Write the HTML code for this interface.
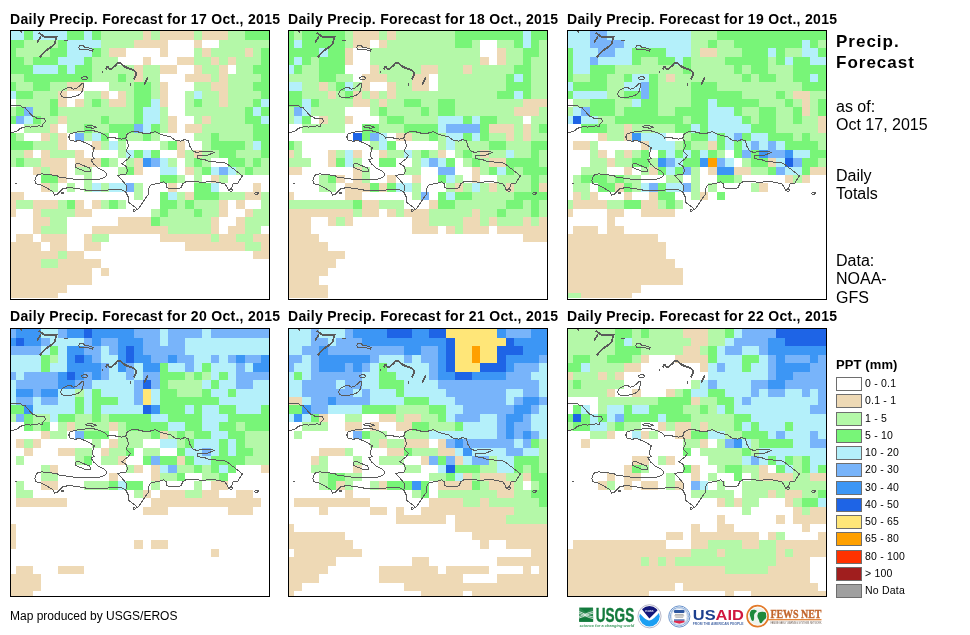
<!DOCTYPE html>
<html><head><meta charset="utf-8">
<title>Daily Precip. Forecast</title>
<style>
html,body{margin:0;padding:0;background:#fff;}
body{width:970px;height:635px;position:relative;overflow:hidden;font-family:"Liberation Sans",Arial,sans-serif;color:#000;}
.ttl{position:absolute;font-weight:bold;font-size:14px;line-height:14px;letter-spacing:0.3px;white-space:nowrap;}
.pn{position:absolute;display:block;}
.rt{position:absolute;left:836px;white-space:nowrap;}
.rb{font-weight:bold;font-size:17px;line-height:17px;letter-spacing:1.0px;}
.rn{font-size:16px;line-height:16px;letter-spacing:0px;}
.lg{position:absolute;left:836px;width:24px;height:12px;border:1px solid #6e6e6e;}
.ll{position:absolute;left:865px;font-size:10.5px;line-height:10.5px;letter-spacing:0.2px;white-space:nowrap;}
.ft{position:absolute;left:10px;top:610px;font-size:12px;line-height:12px;white-space:nowrap;}
</style></head><body>
<div class="ttl" style="left:10px;top:12px">Daily Precip. Forecast for 17 Oct., 2015</div>
<div class="ttl" style="left:288px;top:12px">Daily Precip. Forecast for 18 Oct., 2015</div>
<div class="ttl" style="left:567px;top:12px">Daily Precip. Forecast for 19 Oct., 2015</div>
<div class="ttl" style="left:10px;top:309px">Daily Precip. Forecast for 20 Oct., 2015</div>
<div class="ttl" style="left:288px;top:309px">Daily Precip. Forecast for 21 Oct., 2015</div>
<div class="ttl" style="left:567px;top:309px">Daily Precip. Forecast for 22 Oct., 2015</div>
<svg class="pn" style="left:10px;top:30px" width="260" height="270" viewBox="0 0 260 270">
<g shape-rendering="crispEdges">
<rect x="1" y="1" width="13" height="9" fill="#B4F0FA"/>
<rect x="14" y="1" width="9" height="9" fill="#78F578"/>
<rect x="23" y="1" width="34" height="9" fill="#B4F0FA"/>
<rect x="57" y="1" width="17" height="9" fill="#78F578"/>
<rect x="74" y="1" width="8" height="9" fill="#B4F0FA"/>
<rect x="82" y="1" width="9" height="9" fill="#78F578"/>
<rect x="91" y="1" width="42" height="9" fill="#B4F8A8"/>
<rect x="133" y="1" width="8" height="9" fill="#EED9B5"/>
<rect x="141" y="1" width="9" height="9" fill="#B4F8A8"/>
<rect x="150" y="1" width="34" height="9" fill="#EED9B5"/>
<rect x="184" y="1" width="8" height="9" fill="#B4F8A8"/>
<rect x="192" y="1" width="26" height="9" fill="#EED9B5"/>
<rect x="218" y="1" width="17" height="9" fill="#B4F8A8"/>
<rect x="235" y="1" width="24" height="9" fill="#78F578"/>
<rect x="1" y="10" width="13" height="8" fill="#78F578"/>
<rect x="14" y="10" width="34" height="8" fill="#B4F8A8"/>
<rect x="48" y="10" width="9" height="8" fill="#78F578"/>
<rect x="57" y="10" width="34" height="8" fill="#B4F0FA"/>
<rect x="91" y="10" width="33" height="8" fill="#B4F8A8"/>
<rect x="124" y="10" width="34" height="8" fill="#EED9B5"/>
<rect x="184" y="10" width="8" height="8" fill="#EED9B5"/>
<rect x="209" y="10" width="50" height="8" fill="#B4F8A8"/>
<rect x="1" y="18" width="5" height="9" fill="#78F578"/>
<rect x="6" y="18" width="34" height="9" fill="#B4F8A8"/>
<rect x="40" y="18" width="17" height="9" fill="#78F578"/>
<rect x="57" y="18" width="25" height="9" fill="#B4F0FA"/>
<rect x="82" y="18" width="9" height="9" fill="#78F578"/>
<rect x="91" y="18" width="8" height="9" fill="#B4F8A8"/>
<rect x="99" y="18" width="17" height="9" fill="#EED9B5"/>
<rect x="150" y="18" width="8" height="9" fill="#EED9B5"/>
<rect x="184" y="18" width="8" height="9" fill="#B4F8A8"/>
<rect x="192" y="18" width="9" height="9" fill="#EED9B5"/>
<rect x="201" y="18" width="34" height="9" fill="#B4F8A8"/>
<rect x="235" y="18" width="8" height="9" fill="#EED9B5"/>
<rect x="243" y="18" width="8" height="9" fill="#B4F8A8"/>
<rect x="251" y="18" width="8" height="9" fill="#78F578"/>
<rect x="1" y="27" width="13" height="8" fill="#78F578"/>
<rect x="14" y="27" width="9" height="8" fill="#B4F8A8"/>
<rect x="23" y="27" width="25" height="8" fill="#78F578"/>
<rect x="48" y="27" width="26" height="8" fill="#B4F0FA"/>
<rect x="74" y="27" width="8" height="8" fill="#78F578"/>
<rect x="82" y="27" width="26" height="8" fill="#B4F8A8"/>
<rect x="133" y="27" width="8" height="8" fill="#EED9B5"/>
<rect x="167" y="27" width="17" height="8" fill="#EED9B5"/>
<rect x="184" y="27" width="17" height="8" fill="#B4F8A8"/>
<rect x="201" y="27" width="8" height="8" fill="#EED9B5"/>
<rect x="209" y="27" width="9" height="8" fill="#B4F8A8"/>
<rect x="218" y="27" width="8" height="8" fill="#EED9B5"/>
<rect x="226" y="27" width="25" height="8" fill="#B4F8A8"/>
<rect x="251" y="27" width="8" height="8" fill="#78F578"/>
<rect x="1" y="35" width="22" height="9" fill="#78F578"/>
<rect x="23" y="35" width="25" height="9" fill="#B4F0FA"/>
<rect x="48" y="35" width="9" height="9" fill="#78F578"/>
<rect x="57" y="35" width="8" height="9" fill="#B4F0FA"/>
<rect x="65" y="35" width="17" height="9" fill="#78F578"/>
<rect x="82" y="35" width="42" height="9" fill="#B4F8A8"/>
<rect x="124" y="35" width="9" height="9" fill="#EED9B5"/>
<rect x="133" y="35" width="17" height="9" fill="#B4F8A8"/>
<rect x="150" y="35" width="17" height="9" fill="#EED9B5"/>
<rect x="184" y="35" width="8" height="9" fill="#EED9B5"/>
<rect x="192" y="35" width="17" height="9" fill="#B4F8A8"/>
<rect x="209" y="35" width="9" height="9" fill="#EED9B5"/>
<rect x="226" y="35" width="17" height="9" fill="#B4F8A8"/>
<rect x="243" y="35" width="16" height="9" fill="#78F578"/>
<rect x="1" y="44" width="13" height="8" fill="#B4F8A8"/>
<rect x="14" y="44" width="68" height="8" fill="#78F578"/>
<rect x="82" y="44" width="26" height="8" fill="#B4F8A8"/>
<rect x="108" y="44" width="8" height="8" fill="#78F578"/>
<rect x="116" y="44" width="8" height="8" fill="#B4F8A8"/>
<rect x="124" y="44" width="9" height="8" fill="#EED9B5"/>
<rect x="133" y="44" width="17" height="8" fill="#B4F8A8"/>
<rect x="175" y="44" width="26" height="8" fill="#EED9B5"/>
<rect x="201" y="44" width="8" height="8" fill="#B4F8A8"/>
<rect x="209" y="44" width="9" height="8" fill="#EED9B5"/>
<rect x="218" y="44" width="33" height="8" fill="#B4F8A8"/>
<rect x="251" y="44" width="8" height="8" fill="#78F578"/>
<rect x="1" y="52" width="5" height="9" fill="#78F578"/>
<rect x="6" y="52" width="17" height="9" fill="#B4F8A8"/>
<rect x="23" y="52" width="17" height="9" fill="#78F578"/>
<rect x="40" y="52" width="17" height="9" fill="#B4F8A8"/>
<rect x="57" y="52" width="17" height="9" fill="#EED9B5"/>
<rect x="99" y="52" width="25" height="9" fill="#B4F8A8"/>
<rect x="124" y="52" width="17" height="9" fill="#78F578"/>
<rect x="141" y="52" width="9" height="9" fill="#B4F8A8"/>
<rect x="150" y="52" width="8" height="9" fill="#EED9B5"/>
<rect x="184" y="52" width="17" height="9" fill="#B4F8A8"/>
<rect x="201" y="52" width="17" height="9" fill="#EED9B5"/>
<rect x="218" y="52" width="25" height="9" fill="#B4F8A8"/>
<rect x="243" y="52" width="16" height="9" fill="#78F578"/>
<rect x="1" y="61" width="5" height="8" fill="#B4F0FA"/>
<rect x="6" y="61" width="17" height="8" fill="#78F578"/>
<rect x="23" y="61" width="25" height="8" fill="#B4F8A8"/>
<rect x="48" y="61" width="9" height="8" fill="#EED9B5"/>
<rect x="74" y="61" width="17" height="8" fill="#B4F8A8"/>
<rect x="91" y="61" width="8" height="8" fill="#EED9B5"/>
<rect x="108" y="61" width="8" height="8" fill="#EED9B5"/>
<rect x="116" y="61" width="8" height="8" fill="#B4F8A8"/>
<rect x="124" y="61" width="17" height="8" fill="#78F578"/>
<rect x="141" y="61" width="9" height="8" fill="#B4F8A8"/>
<rect x="150" y="61" width="8" height="8" fill="#EED9B5"/>
<rect x="175" y="61" width="9" height="8" fill="#B4F8A8"/>
<rect x="184" y="61" width="8" height="8" fill="#B4F0FA"/>
<rect x="192" y="61" width="17" height="8" fill="#B4F8A8"/>
<rect x="209" y="61" width="9" height="8" fill="#EED9B5"/>
<rect x="218" y="61" width="33" height="8" fill="#B4F8A8"/>
<rect x="251" y="61" width="8" height="8" fill="#78F578"/>
<rect x="6" y="69" width="34" height="8" fill="#B4F8A8"/>
<rect x="40" y="69" width="8" height="8" fill="#78F578"/>
<rect x="48" y="69" width="9" height="8" fill="#EED9B5"/>
<rect x="65" y="69" width="9" height="8" fill="#EED9B5"/>
<rect x="74" y="69" width="8" height="8" fill="#B4F8A8"/>
<rect x="82" y="69" width="9" height="8" fill="#78F578"/>
<rect x="91" y="69" width="8" height="8" fill="#B4F8A8"/>
<rect x="99" y="69" width="17" height="8" fill="#EED9B5"/>
<rect x="116" y="69" width="8" height="8" fill="#B4F8A8"/>
<rect x="124" y="69" width="17" height="8" fill="#78F578"/>
<rect x="141" y="69" width="9" height="8" fill="#B4F0FA"/>
<rect x="150" y="69" width="8" height="8" fill="#EED9B5"/>
<rect x="175" y="69" width="9" height="8" fill="#B4F8A8"/>
<rect x="184" y="69" width="8" height="8" fill="#78F578"/>
<rect x="192" y="69" width="17" height="8" fill="#B4F8A8"/>
<rect x="209" y="69" width="9" height="8" fill="#EED9B5"/>
<rect x="218" y="69" width="25" height="8" fill="#B4F8A8"/>
<rect x="243" y="69" width="8" height="8" fill="#78F578"/>
<rect x="251" y="69" width="8" height="8" fill="#B4F0FA"/>
<rect x="1" y="77" width="5" height="9" fill="#B4F8A8"/>
<rect x="6" y="77" width="8" height="9" fill="#78F578"/>
<rect x="14" y="77" width="9" height="9" fill="#78B4FA"/>
<rect x="23" y="77" width="17" height="9" fill="#B4F8A8"/>
<rect x="40" y="77" width="8" height="9" fill="#78F578"/>
<rect x="48" y="77" width="76" height="9" fill="#B4F8A8"/>
<rect x="124" y="77" width="9" height="9" fill="#78F578"/>
<rect x="133" y="77" width="17" height="9" fill="#B4F0FA"/>
<rect x="150" y="77" width="8" height="9" fill="#B4F8A8"/>
<rect x="175" y="77" width="60" height="9" fill="#B4F8A8"/>
<rect x="235" y="77" width="8" height="9" fill="#78F578"/>
<rect x="243" y="77" width="8" height="9" fill="#B4F0FA"/>
<rect x="251" y="77" width="8" height="9" fill="#78F578"/>
<rect x="1" y="86" width="5" height="8" fill="#78F578"/>
<rect x="6" y="86" width="8" height="8" fill="#78B4FA"/>
<rect x="14" y="86" width="9" height="8" fill="#B4F0FA"/>
<rect x="23" y="86" width="8" height="8" fill="#78F578"/>
<rect x="31" y="86" width="17" height="8" fill="#B4F8A8"/>
<rect x="48" y="86" width="9" height="8" fill="#EED9B5"/>
<rect x="57" y="86" width="34" height="8" fill="#B4F8A8"/>
<rect x="91" y="86" width="8" height="8" fill="#78F578"/>
<rect x="99" y="86" width="25" height="8" fill="#B4F8A8"/>
<rect x="124" y="86" width="9" height="8" fill="#78F578"/>
<rect x="133" y="86" width="17" height="8" fill="#B4F0FA"/>
<rect x="150" y="86" width="8" height="8" fill="#B4F8A8"/>
<rect x="158" y="86" width="9" height="8" fill="#EED9B5"/>
<rect x="184" y="86" width="8" height="8" fill="#B4F8A8"/>
<rect x="192" y="86" width="9" height="8" fill="#EED9B5"/>
<rect x="201" y="86" width="34" height="8" fill="#B4F8A8"/>
<rect x="235" y="86" width="16" height="8" fill="#78F578"/>
<rect x="251" y="86" width="8" height="8" fill="#B4F0FA"/>
<rect x="14" y="94" width="26" height="9" fill="#B4F8A8"/>
<rect x="40" y="94" width="8" height="9" fill="#EED9B5"/>
<rect x="57" y="94" width="17" height="9" fill="#B4F8A8"/>
<rect x="74" y="94" width="8" height="9" fill="#78F578"/>
<rect x="82" y="94" width="17" height="9" fill="#B4F8A8"/>
<rect x="99" y="94" width="25" height="9" fill="#78F578"/>
<rect x="124" y="94" width="9" height="9" fill="#78B4FA"/>
<rect x="133" y="94" width="8" height="9" fill="#B4F0FA"/>
<rect x="141" y="94" width="9" height="9" fill="#78F578"/>
<rect x="150" y="94" width="8" height="9" fill="#B4F8A8"/>
<rect x="158" y="94" width="9" height="9" fill="#EED9B5"/>
<rect x="175" y="94" width="17" height="9" fill="#EED9B5"/>
<rect x="192" y="94" width="51" height="9" fill="#B4F8A8"/>
<rect x="243" y="94" width="16" height="9" fill="#78F578"/>
<rect x="1" y="103" width="5" height="8" fill="#78F578"/>
<rect x="6" y="103" width="8" height="8" fill="#B4F8A8"/>
<rect x="31" y="103" width="9" height="8" fill="#EED9B5"/>
<rect x="40" y="103" width="8" height="8" fill="#B4F8A8"/>
<rect x="48" y="103" width="9" height="8" fill="#EED9B5"/>
<rect x="65" y="103" width="9" height="8" fill="#78B4FA"/>
<rect x="74" y="103" width="8" height="8" fill="#B4F8A8"/>
<rect x="82" y="103" width="9" height="8" fill="#B4F0FA"/>
<rect x="91" y="103" width="8" height="8" fill="#78F578"/>
<rect x="108" y="103" width="8" height="8" fill="#78F578"/>
<rect x="116" y="103" width="17" height="8" fill="#B4F8A8"/>
<rect x="133" y="103" width="8" height="8" fill="#78F578"/>
<rect x="141" y="103" width="9" height="8" fill="#B4F8A8"/>
<rect x="184" y="103" width="17" height="8" fill="#B4F8A8"/>
<rect x="201" y="103" width="8" height="8" fill="#78F578"/>
<rect x="209" y="103" width="34" height="8" fill="#B4F8A8"/>
<rect x="243" y="103" width="16" height="8" fill="#78F578"/>
<rect x="1" y="111" width="22" height="9" fill="#78F578"/>
<rect x="23" y="111" width="25" height="9" fill="#B4F8A8"/>
<rect x="48" y="111" width="9" height="9" fill="#EED9B5"/>
<rect x="82" y="111" width="9" height="9" fill="#EED9B5"/>
<rect x="91" y="111" width="8" height="9" fill="#B4F8A8"/>
<rect x="99" y="111" width="9" height="9" fill="#B4F0FA"/>
<rect x="108" y="111" width="8" height="9" fill="#B4F8A8"/>
<rect x="150" y="111" width="8" height="9" fill="#B4F8A8"/>
<rect x="158" y="111" width="9" height="9" fill="#78F578"/>
<rect x="167" y="111" width="8" height="9" fill="#EED9B5"/>
<rect x="192" y="111" width="9" height="9" fill="#B4F8A8"/>
<rect x="201" y="111" width="34" height="9" fill="#78F578"/>
<rect x="235" y="111" width="8" height="9" fill="#B4F8A8"/>
<rect x="243" y="111" width="8" height="9" fill="#B4F0FA"/>
<rect x="251" y="111" width="8" height="9" fill="#78F578"/>
<rect x="1" y="120" width="13" height="8" fill="#B4F8A8"/>
<rect x="14" y="120" width="9" height="8" fill="#EED9B5"/>
<rect x="31" y="120" width="9" height="8" fill="#EED9B5"/>
<rect x="40" y="120" width="25" height="8" fill="#B4F8A8"/>
<rect x="65" y="120" width="9" height="8" fill="#EED9B5"/>
<rect x="108" y="120" width="8" height="8" fill="#B4F8A8"/>
<rect x="116" y="120" width="8" height="8" fill="#B4F0FA"/>
<rect x="124" y="120" width="9" height="8" fill="#78F578"/>
<rect x="133" y="120" width="8" height="8" fill="#B4F0FA"/>
<rect x="141" y="120" width="9" height="8" fill="#78F578"/>
<rect x="167" y="120" width="8" height="8" fill="#EED9B5"/>
<rect x="175" y="120" width="9" height="8" fill="#B4F8A8"/>
<rect x="184" y="120" width="8" height="8" fill="#EED9B5"/>
<rect x="192" y="120" width="17" height="8" fill="#B4F8A8"/>
<rect x="209" y="120" width="17" height="8" fill="#78F578"/>
<rect x="226" y="120" width="25" height="8" fill="#B4F8A8"/>
<rect x="251" y="120" width="8" height="8" fill="#78F578"/>
<rect x="1" y="128" width="5" height="9" fill="#B4F8A8"/>
<rect x="6" y="128" width="8" height="9" fill="#78F578"/>
<rect x="14" y="128" width="17" height="9" fill="#B4F8A8"/>
<rect x="31" y="128" width="26" height="9" fill="#EED9B5"/>
<rect x="65" y="128" width="26" height="9" fill="#EED9B5"/>
<rect x="91" y="128" width="8" height="9" fill="#78F578"/>
<rect x="99" y="128" width="9" height="9" fill="#B4F8A8"/>
<rect x="116" y="128" width="8" height="9" fill="#B4F8A8"/>
<rect x="124" y="128" width="9" height="9" fill="#EED9B5"/>
<rect x="133" y="128" width="8" height="9" fill="#3C96F5"/>
<rect x="141" y="128" width="9" height="9" fill="#78B4FA"/>
<rect x="150" y="128" width="8" height="9" fill="#B4F0FA"/>
<rect x="158" y="128" width="9" height="9" fill="#B4F8A8"/>
<rect x="175" y="128" width="9" height="9" fill="#B4F8A8"/>
<rect x="184" y="128" width="8" height="9" fill="#78F578"/>
<rect x="192" y="128" width="9" height="9" fill="#B4F8A8"/>
<rect x="218" y="128" width="17" height="9" fill="#78F578"/>
<rect x="235" y="128" width="8" height="9" fill="#B4F8A8"/>
<rect x="243" y="128" width="8" height="9" fill="#78F578"/>
<rect x="251" y="128" width="8" height="9" fill="#B4F8A8"/>
<rect x="23" y="137" width="8" height="8" fill="#EED9B5"/>
<rect x="31" y="137" width="9" height="8" fill="#B4F8A8"/>
<rect x="40" y="137" width="17" height="8" fill="#EED9B5"/>
<rect x="65" y="137" width="17" height="8" fill="#B4F8A8"/>
<rect x="108" y="137" width="8" height="8" fill="#B4F8A8"/>
<rect x="116" y="137" width="8" height="8" fill="#78F578"/>
<rect x="124" y="137" width="9" height="8" fill="#EED9B5"/>
<rect x="150" y="137" width="17" height="8" fill="#B4F0FA"/>
<rect x="175" y="137" width="9" height="8" fill="#EED9B5"/>
<rect x="184" y="137" width="8" height="8" fill="#B4F8A8"/>
<rect x="192" y="137" width="9" height="8" fill="#78F578"/>
<rect x="201" y="137" width="8" height="8" fill="#B4F0FA"/>
<rect x="209" y="137" width="9" height="8" fill="#78B4FA"/>
<rect x="218" y="137" width="8" height="8" fill="#B4F0FA"/>
<rect x="226" y="137" width="9" height="8" fill="#B4F8A8"/>
<rect x="235" y="137" width="8" height="8" fill="#78F578"/>
<rect x="243" y="137" width="16" height="8" fill="#B4F8A8"/>
<rect x="31" y="145" width="17" height="8" fill="#78F578"/>
<rect x="48" y="145" width="9" height="8" fill="#EED9B5"/>
<rect x="74" y="145" width="8" height="8" fill="#B4F8A8"/>
<rect x="150" y="145" width="17" height="8" fill="#78F578"/>
<rect x="167" y="145" width="8" height="8" fill="#B4F8A8"/>
<rect x="184" y="145" width="8" height="8" fill="#B4F8A8"/>
<rect x="201" y="145" width="8" height="8" fill="#EED9B5"/>
<rect x="209" y="145" width="9" height="8" fill="#B4F8A8"/>
<rect x="31" y="153" width="9" height="9" fill="#EED9B5"/>
<rect x="40" y="153" width="8" height="9" fill="#B4F8A8"/>
<rect x="57" y="153" width="8" height="9" fill="#B4F8A8"/>
<rect x="74" y="153" width="8" height="9" fill="#B4F8A8"/>
<rect x="82" y="153" width="9" height="9" fill="#B4F0FA"/>
<rect x="91" y="153" width="8" height="9" fill="#B4F8A8"/>
<rect x="99" y="153" width="17" height="9" fill="#B4F0FA"/>
<rect x="116" y="153" width="8" height="9" fill="#78B4FA"/>
<rect x="124" y="153" width="9" height="9" fill="#B4F8A8"/>
<rect x="158" y="153" width="9" height="9" fill="#EED9B5"/>
<rect x="184" y="153" width="17" height="9" fill="#78F578"/>
<rect x="201" y="153" width="8" height="9" fill="#B4F0FA"/>
<rect x="243" y="153" width="8" height="9" fill="#EED9B5"/>
<rect x="1" y="162" width="13" height="8" fill="#EED9B5"/>
<rect x="124" y="162" width="9" height="8" fill="#B4F8A8"/>
<rect x="150" y="162" width="8" height="8" fill="#78F578"/>
<rect x="158" y="162" width="9" height="8" fill="#B4F0FA"/>
<rect x="167" y="162" width="8" height="8" fill="#B4F8A8"/>
<rect x="175" y="162" width="9" height="8" fill="#EED9B5"/>
<rect x="184" y="162" width="25" height="8" fill="#78F578"/>
<rect x="209" y="162" width="26" height="8" fill="#B4F8A8"/>
<rect x="235" y="162" width="16" height="8" fill="#EED9B5"/>
<rect x="251" y="162" width="8" height="8" fill="#B4F8A8"/>
<rect x="1" y="170" width="5" height="9" fill="#EED9B5"/>
<rect x="6" y="170" width="17" height="9" fill="#B4F8A8"/>
<rect x="23" y="170" width="25" height="9" fill="#EED9B5"/>
<rect x="48" y="170" width="9" height="9" fill="#B4F8A8"/>
<rect x="57" y="170" width="8" height="9" fill="#78F578"/>
<rect x="65" y="170" width="9" height="9" fill="#EED9B5"/>
<rect x="82" y="170" width="9" height="9" fill="#EED9B5"/>
<rect x="91" y="170" width="8" height="9" fill="#B4F8A8"/>
<rect x="99" y="170" width="9" height="9" fill="#78F578"/>
<rect x="108" y="170" width="8" height="9" fill="#B4F8A8"/>
<rect x="150" y="170" width="17" height="9" fill="#78F578"/>
<rect x="167" y="170" width="8" height="9" fill="#B4F8A8"/>
<rect x="175" y="170" width="9" height="9" fill="#78F578"/>
<rect x="184" y="170" width="25" height="9" fill="#B4F8A8"/>
<rect x="209" y="170" width="9" height="9" fill="#EED9B5"/>
<rect x="226" y="170" width="9" height="9" fill="#EED9B5"/>
<rect x="251" y="170" width="8" height="9" fill="#B4F8A8"/>
<rect x="1" y="179" width="5" height="8" fill="#EED9B5"/>
<rect x="23" y="179" width="8" height="8" fill="#EED9B5"/>
<rect x="31" y="179" width="34" height="8" fill="#B4F8A8"/>
<rect x="65" y="179" width="17" height="8" fill="#EED9B5"/>
<rect x="141" y="179" width="9" height="8" fill="#B4F8A8"/>
<rect x="150" y="179" width="8" height="8" fill="#78F578"/>
<rect x="158" y="179" width="26" height="8" fill="#B4F8A8"/>
<rect x="184" y="179" width="8" height="8" fill="#78F578"/>
<rect x="192" y="179" width="17" height="8" fill="#B4F8A8"/>
<rect x="209" y="179" width="9" height="8" fill="#EED9B5"/>
<rect x="235" y="179" width="8" height="8" fill="#EED9B5"/>
<rect x="243" y="179" width="16" height="8" fill="#B4F8A8"/>
<rect x="23" y="187" width="17" height="9" fill="#EED9B5"/>
<rect x="40" y="187" width="17" height="9" fill="#B4F8A8"/>
<rect x="108" y="187" width="33" height="9" fill="#EED9B5"/>
<rect x="141" y="187" width="9" height="9" fill="#78F578"/>
<rect x="150" y="187" width="51" height="9" fill="#B4F8A8"/>
<rect x="201" y="187" width="8" height="9" fill="#EED9B5"/>
<rect x="226" y="187" width="9" height="9" fill="#EED9B5"/>
<rect x="235" y="187" width="24" height="9" fill="#B4F8A8"/>
<rect x="23" y="196" width="8" height="8" fill="#EED9B5"/>
<rect x="31" y="196" width="26" height="8" fill="#B4F8A8"/>
<rect x="82" y="196" width="76" height="8" fill="#EED9B5"/>
<rect x="158" y="196" width="43" height="8" fill="#B4F8A8"/>
<rect x="201" y="196" width="8" height="8" fill="#EED9B5"/>
<rect x="218" y="196" width="17" height="8" fill="#EED9B5"/>
<rect x="235" y="196" width="16" height="8" fill="#B4F8A8"/>
<rect x="6" y="204" width="17" height="8" fill="#EED9B5"/>
<rect x="31" y="204" width="26" height="8" fill="#EED9B5"/>
<rect x="74" y="204" width="8" height="8" fill="#EED9B5"/>
<rect x="82" y="204" width="17" height="8" fill="#B4F8A8"/>
<rect x="150" y="204" width="51" height="8" fill="#EED9B5"/>
<rect x="201" y="204" width="8" height="8" fill="#B4F8A8"/>
<rect x="209" y="204" width="17" height="8" fill="#EED9B5"/>
<rect x="226" y="204" width="17" height="8" fill="#B4F8A8"/>
<rect x="243" y="204" width="16" height="8" fill="#EED9B5"/>
<rect x="1" y="212" width="30" height="9" fill="#EED9B5"/>
<rect x="40" y="212" width="17" height="9" fill="#EED9B5"/>
<rect x="74" y="212" width="17" height="9" fill="#EED9B5"/>
<rect x="175" y="212" width="60" height="9" fill="#EED9B5"/>
<rect x="235" y="212" width="16" height="9" fill="#B4F8A8"/>
<rect x="251" y="212" width="8" height="9" fill="#EED9B5"/>
<rect x="1" y="221" width="47" height="8" fill="#EED9B5"/>
<rect x="48" y="221" width="9" height="8" fill="#B4F8A8"/>
<rect x="57" y="221" width="17" height="8" fill="#EED9B5"/>
<rect x="243" y="221" width="16" height="8" fill="#EED9B5"/>
<rect x="1" y="229" width="30" height="9" fill="#EED9B5"/>
<rect x="31" y="229" width="17" height="9" fill="#B4F8A8"/>
<rect x="48" y="229" width="43" height="9" fill="#EED9B5"/>
<rect x="1" y="238" width="81" height="8" fill="#EED9B5"/>
<rect x="91" y="238" width="8" height="8" fill="#EED9B5"/>
<rect x="1" y="246" width="81" height="9" fill="#EED9B5"/>
<rect x="1" y="255" width="56" height="8" fill="#EED9B5"/>
<rect x="1" y="263" width="47" height="5" fill="#EED9B5"/>
</g>
<g fill="none" stroke="#5a5a5a" stroke-width="1" stroke-linejoin="round" shape-rendering="crispEdges"><path d="M58.8,107.1 L60.1,104.1 L64.8,102.4 L70.2,101.5 L76.2,100.9 L81.5,100.4 L86.9,101.5 L91.6,103.3 L95.6,105.1 L97.6,108.2 L102.3,107.1 L107.0,108.4 L111.7,109.1 L115.7,108.4 L117.0,104.4 L119.7,102.4 L125.0,101.1 L131.7,102.8 L137.1,104.1 L142.4,102.4 L145.4,101.5 L149.4,103.7 L154.7,105.7 L160.1,106.4 L165.4,110.4 L170.8,111.1 L174.8,109.5 L178.8,111.1 L179.5,115.8 L182.8,121.1 L186.9,122.5 L191.5,121.5 L197.6,121.1 L201.6,121.1 L204.3,122.5 L200.9,123.8 L196.2,125.8 L190.9,125.2 L187.9,125.8 L187.5,128.5 L190.9,129.2 L194.9,129.8 L198.9,131.2 L204.3,131.8 L211.0,132.5 L216.3,133.2 L220.3,136.5 L225.7,140.5 L232.4,145.9 L229.7,149.9 L227.7,153.9 L223.0,153.9 L221.7,158.0 L219.0,161.3 L217.6,158.0 L215.0,153.9 L209.6,152.6 L201.6,151.3 L193.5,152.3 L186.9,151.9 L180.2,151.0 L175.5,151.9 L172.8,153.9 L170.8,158.0 L160.2,158.5 L156.9,157.6 L156.0,153.5 L153.6,151.9 L148.6,153.5 L143.7,154.3 L140.4,155.2 L138.7,158.5 L138.7,164.2 L135.4,168.4 L132.1,173.3 L128.8,178.3 L127.2,179.6 L125.5,177.4 L122.2,175.0 L118.9,172.5 L118.9,168.4 L117.3,165.1 L115.6,161.8 L112.3,160.1 L109.0,159.3 L102.4,159.8 L95.8,160.1 L87.6,160.1 L81.0,160.9 L76.0,160.1 L67.8,158.5 L59.5,157.6 L52.9,158.5 L49.6,161.8 L47.1,164.7 L44.7,165.1 L43.0,161.8 L38.9,159.3 L34.8,156.8 L31.5,155.2 L25.7,153.5 L24.9,150.2 L26.5,145.3 L31.5,143.9 L36.4,144.4 L38.0,144.3 L47.4,145.9 L49.6,147.2 L55.4,147.9 L60.8,148.6 L67.5,149.9 L75.5,149.2 L84.9,149.9 L92.2,148.6 L95.6,146.6 L96.9,143.9 L94.3,141.2 L88.9,138.5 L83.5,133.9 L80.9,129.8 L84.2,128.5 L82.2,126.5 L82.9,122.5 L84.2,117.8 L80.2,115.1 L75.5,112.7 L70.2,110.8 L64.8,111.1 L60.1,110.0Z"/><path d="M115.7,108.4 L117.7,111.8 L118.4,115.8 L116.3,121.1 L120.4,125.2 L118.4,128.5 L111.7,133.9 L115.7,135.9 L117.7,140.5 L115.7,144.6 L107.6,145.2 L111.7,149.9 L116.3,155.3 L117.0,159.3 L115.6,161.8"/><path d="M75.5,96.6 L78.2,95.6 L82.2,95.8 L86.9,97.4 L83.5,98.2 L78.2,97.7Z"/><path d="M65.1,134.1 L68.8,133.5 L74.2,135.9 L79.5,137.9 L81.1,141.2 L76.9,141.9 L70.2,139.5 L65.5,137.2Z"/><path d="M0.8,75.2 L4.9,75.2 L9.9,75.2 L12.4,77.3 L15.3,77.7 L16.5,79.4 L19.0,82.3 L21.4,84.7 L23.5,86.8 L25.6,87.2 L27.2,88.4 L29.7,88.9 L33.0,88.0 L34.6,88.9 L35.9,91.3 L34.6,92.6 L33.0,94.2 L32.6,96.3 L28.9,95.9 L24.7,96.5 L20.6,97.1 L16.5,96.7 L12.4,97.5 L9.9,98.8 L7.4,100.8 L4.9,101.6 L2.5,102.5 L0.8,102.5"/><path d="M53.5,11.2 L55.6,10.4 L58.4,10.9"/><path d="M69.1,16.6 L70.5,15.2 L73.3,15.9 L74.8,17.3 L78.3,17.7 L81.1,18.7 L83.3,19.4 L82.6,21.1 L80.4,20.9 L77.6,19.2 L74.8,19.4 L71.9,19.2 L69.8,19.4 L68.8,18.0Z"/><path d="M91.8,42.8 L93.2,41.4"/><path d="M120.1,53.5 L120.6,55.6"/><path d="M71.9,47.5 L74.0,46.4 L76.9,47.1 L77.6,48.5 L75.5,49.9 L72.6,49.9 L71.9,48.5Z"/><path d="M50.6,63.4 L52.1,60.6 L54.9,59.2 L57.7,57.7 L60.6,57.5 L63.4,59.2 L66.2,58.4 L69.1,56.3 L71.2,54.2 L72.6,53.5 L74.0,54.2 L73.3,57.0 L72.6,60.6 L70.5,63.4 L67.7,65.5 L64.8,66.2 L62.0,67.0 L57.7,67.4 L53.5,67.4 L51.4,66.2Z"/><path d="M51.0,162.6 L53.5,162.2 L54.0,163.6 L51.5,163.9Z"/><path d="M244.4,163.5 L246.0,162.6 L248.4,162.9 L247.5,164.4 L245.2,164.4Z"/><path d="M123.0,179.5 L125.0,179.5 L125.0,181.3 L123.0,181.3Z"/><path d="M218.0,159.6 L220.5,158.9 L223.0,160.3 L220.5,161.6Z"/><path d="M10.2,1.2 L12.3,2.4"/><path d="M28.7,2.7 L30.8,4.1 L33.6,6.4 L37.9,7.4 L43.6,7.0 L46.7,6.7 L45.7,9.5 L45.0,13.1 L43.6,15.2 L41.4,16.9 L38.6,18.7 L35.8,20.9 L33.3,23.0 L31.5,25.1 L29.8,27.2" stroke-width="1.8"/><path d="M30.8,6.7 L29.4,8.8 L28.0,10.9 L27.2,12.6" stroke-width="1.8"/><path d="M96.0,39.3 L97.5,36.5 L98.9,38.6 L101.7,38.6 L106.0,35.0 L107.4,32.9 L110.2,32.9 L113.1,35.8 L117.3,37.9 L121.6,39.3 L125.1,41.4 L126.5,42.8 L125.8,45.0 L125.1,47.1 L123.7,49.2" stroke-width="1.8"/><path d="M134.2,54.8 L135.6,52.0 L137.8,47.6" stroke-width="1.8"/><rect x="5" y="152.5" width="1.5" height="1.5" fill="#5a5a5a" stroke="none"/></g>
<rect x="0.5" y="0.5" width="259" height="269" fill="none" stroke="#000" stroke-width="1" shape-rendering="crispEdges"/>
</svg>
<svg class="pn" style="left:288px;top:30px" width="260" height="270" viewBox="0 0 260 270">
<g shape-rendering="crispEdges">
<rect x="1" y="1" width="5" height="9" fill="#78F578"/>
<rect x="6" y="1" width="8" height="9" fill="#B4F8A8"/>
<rect x="14" y="1" width="43" height="9" fill="#78F578"/>
<rect x="57" y="1" width="8" height="9" fill="#B4F8A8"/>
<rect x="65" y="1" width="26" height="9" fill="#EED9B5"/>
<rect x="91" y="1" width="8" height="9" fill="#B4F8A8"/>
<rect x="99" y="1" width="9" height="9" fill="#EED9B5"/>
<rect x="108" y="1" width="59" height="9" fill="#B4F8A8"/>
<rect x="167" y="1" width="68" height="9" fill="#78F578"/>
<rect x="235" y="1" width="8" height="9" fill="#B4F0FA"/>
<rect x="243" y="1" width="16" height="9" fill="#78F578"/>
<rect x="1" y="10" width="5" height="8" fill="#78F578"/>
<rect x="6" y="10" width="8" height="8" fill="#B4F0FA"/>
<rect x="14" y="10" width="43" height="8" fill="#78F578"/>
<rect x="57" y="10" width="8" height="8" fill="#B4F8A8"/>
<rect x="65" y="10" width="17" height="8" fill="#EED9B5"/>
<rect x="91" y="10" width="8" height="8" fill="#EED9B5"/>
<rect x="99" y="10" width="68" height="8" fill="#B4F8A8"/>
<rect x="167" y="10" width="17" height="8" fill="#78F578"/>
<rect x="184" y="10" width="8" height="8" fill="#B4F8A8"/>
<rect x="209" y="10" width="17" height="8" fill="#B4F8A8"/>
<rect x="226" y="10" width="9" height="8" fill="#78F578"/>
<rect x="235" y="10" width="8" height="8" fill="#B4F0FA"/>
<rect x="243" y="10" width="8" height="8" fill="#78F578"/>
<rect x="251" y="10" width="8" height="8" fill="#B4F8A8"/>
<rect x="1" y="18" width="30" height="9" fill="#78F578"/>
<rect x="31" y="18" width="9" height="9" fill="#B4F0FA"/>
<rect x="40" y="18" width="17" height="9" fill="#78F578"/>
<rect x="57" y="18" width="8" height="9" fill="#EED9B5"/>
<rect x="82" y="18" width="110" height="9" fill="#B4F8A8"/>
<rect x="209" y="18" width="9" height="9" fill="#EED9B5"/>
<rect x="218" y="18" width="17" height="9" fill="#B4F8A8"/>
<rect x="235" y="18" width="16" height="9" fill="#78F578"/>
<rect x="251" y="18" width="8" height="9" fill="#B4F8A8"/>
<rect x="1" y="27" width="5" height="8" fill="#78F578"/>
<rect x="6" y="27" width="8" height="8" fill="#B4F0FA"/>
<rect x="14" y="27" width="9" height="8" fill="#78F578"/>
<rect x="23" y="27" width="8" height="8" fill="#B4F8A8"/>
<rect x="31" y="27" width="26" height="8" fill="#78F578"/>
<rect x="57" y="27" width="8" height="8" fill="#EED9B5"/>
<rect x="82" y="27" width="110" height="8" fill="#B4F8A8"/>
<rect x="192" y="27" width="9" height="8" fill="#EED9B5"/>
<rect x="209" y="27" width="9" height="8" fill="#EED9B5"/>
<rect x="218" y="27" width="17" height="8" fill="#B4F8A8"/>
<rect x="235" y="27" width="8" height="8" fill="#78F578"/>
<rect x="243" y="27" width="16" height="8" fill="#B4F8A8"/>
<rect x="1" y="35" width="5" height="9" fill="#B4F0FA"/>
<rect x="6" y="35" width="8" height="9" fill="#78F578"/>
<rect x="14" y="35" width="17" height="9" fill="#B4F8A8"/>
<rect x="31" y="35" width="26" height="9" fill="#78F578"/>
<rect x="82" y="35" width="9" height="9" fill="#EED9B5"/>
<rect x="91" y="35" width="42" height="9" fill="#B4F8A8"/>
<rect x="133" y="35" width="17" height="9" fill="#EED9B5"/>
<rect x="150" y="35" width="25" height="9" fill="#B4F8A8"/>
<rect x="175" y="35" width="9" height="9" fill="#EED9B5"/>
<rect x="184" y="35" width="42" height="9" fill="#B4F8A8"/>
<rect x="226" y="35" width="17" height="9" fill="#78F578"/>
<rect x="243" y="35" width="16" height="9" fill="#B4F8A8"/>
<rect x="1" y="44" width="30" height="8" fill="#B4F8A8"/>
<rect x="31" y="44" width="17" height="8" fill="#78F578"/>
<rect x="48" y="44" width="17" height="8" fill="#B4F8A8"/>
<rect x="74" y="44" width="25" height="8" fill="#EED9B5"/>
<rect x="99" y="44" width="25" height="8" fill="#B4F8A8"/>
<rect x="124" y="44" width="17" height="8" fill="#EED9B5"/>
<rect x="150" y="44" width="68" height="8" fill="#B4F8A8"/>
<rect x="218" y="44" width="8" height="8" fill="#78F578"/>
<rect x="226" y="44" width="9" height="8" fill="#B4F0FA"/>
<rect x="235" y="44" width="8" height="8" fill="#78F578"/>
<rect x="243" y="44" width="16" height="8" fill="#B4F8A8"/>
<rect x="1" y="52" width="13" height="9" fill="#B4F0FA"/>
<rect x="14" y="52" width="17" height="9" fill="#B4F8A8"/>
<rect x="31" y="52" width="9" height="9" fill="#EED9B5"/>
<rect x="40" y="52" width="8" height="9" fill="#B4F8A8"/>
<rect x="48" y="52" width="9" height="9" fill="#78F578"/>
<rect x="57" y="52" width="8" height="9" fill="#B4F0FA"/>
<rect x="65" y="52" width="9" height="9" fill="#B4F8A8"/>
<rect x="74" y="52" width="8" height="9" fill="#EED9B5"/>
<rect x="99" y="52" width="9" height="9" fill="#EED9B5"/>
<rect x="108" y="52" width="16" height="9" fill="#B4F8A8"/>
<rect x="124" y="52" width="17" height="9" fill="#EED9B5"/>
<rect x="150" y="52" width="68" height="9" fill="#B4F8A8"/>
<rect x="218" y="52" width="25" height="9" fill="#78F578"/>
<rect x="243" y="52" width="16" height="9" fill="#B4F8A8"/>
<rect x="1" y="61" width="13" height="8" fill="#78F578"/>
<rect x="14" y="61" width="26" height="8" fill="#B4F8A8"/>
<rect x="40" y="61" width="8" height="8" fill="#EED9B5"/>
<rect x="48" y="61" width="9" height="8" fill="#B4F8A8"/>
<rect x="57" y="61" width="8" height="8" fill="#78F578"/>
<rect x="65" y="61" width="9" height="8" fill="#EED9B5"/>
<rect x="74" y="61" width="8" height="8" fill="#B4F8A8"/>
<rect x="82" y="61" width="9" height="8" fill="#EED9B5"/>
<rect x="91" y="61" width="8" height="8" fill="#B4F8A8"/>
<rect x="99" y="61" width="9" height="8" fill="#EED9B5"/>
<rect x="108" y="61" width="101" height="8" fill="#B4F8A8"/>
<rect x="209" y="61" width="17" height="8" fill="#78F578"/>
<rect x="226" y="61" width="9" height="8" fill="#B4F0FA"/>
<rect x="235" y="61" width="8" height="8" fill="#78F578"/>
<rect x="243" y="61" width="16" height="8" fill="#B4F8A8"/>
<rect x="1" y="69" width="13" height="8" fill="#78F578"/>
<rect x="14" y="69" width="9" height="8" fill="#B4F0FA"/>
<rect x="23" y="69" width="8" height="8" fill="#78F578"/>
<rect x="31" y="69" width="34" height="8" fill="#B4F8A8"/>
<rect x="65" y="69" width="17" height="8" fill="#EED9B5"/>
<rect x="82" y="69" width="9" height="8" fill="#B4F8A8"/>
<rect x="91" y="69" width="8" height="8" fill="#EED9B5"/>
<rect x="99" y="69" width="17" height="8" fill="#B4F8A8"/>
<rect x="116" y="69" width="17" height="8" fill="#78F578"/>
<rect x="133" y="69" width="17" height="8" fill="#B4F8A8"/>
<rect x="150" y="69" width="17" height="8" fill="#78F578"/>
<rect x="167" y="69" width="68" height="8" fill="#B4F8A8"/>
<rect x="235" y="69" width="24" height="8" fill="#EED9B5"/>
<rect x="1" y="77" width="5" height="9" fill="#B4F8A8"/>
<rect x="6" y="77" width="8" height="9" fill="#78B4FA"/>
<rect x="14" y="77" width="9" height="9" fill="#B4F0FA"/>
<rect x="23" y="77" width="34" height="9" fill="#B4F8A8"/>
<rect x="82" y="77" width="9" height="9" fill="#B4F8A8"/>
<rect x="91" y="77" width="8" height="9" fill="#78F578"/>
<rect x="99" y="77" width="34" height="9" fill="#B4F8A8"/>
<rect x="133" y="77" width="8" height="9" fill="#78F578"/>
<rect x="141" y="77" width="9" height="9" fill="#B4F8A8"/>
<rect x="150" y="77" width="17" height="9" fill="#78F578"/>
<rect x="167" y="77" width="59" height="9" fill="#B4F8A8"/>
<rect x="226" y="77" width="25" height="9" fill="#EED9B5"/>
<rect x="251" y="77" width="8" height="9" fill="#B4F8A8"/>
<rect x="1" y="86" width="5" height="8" fill="#B4F8A8"/>
<rect x="6" y="86" width="8" height="8" fill="#B4F0FA"/>
<rect x="14" y="86" width="9" height="8" fill="#78F578"/>
<rect x="31" y="86" width="9" height="8" fill="#EED9B5"/>
<rect x="40" y="86" width="17" height="8" fill="#B4F8A8"/>
<rect x="57" y="86" width="8" height="8" fill="#EED9B5"/>
<rect x="91" y="86" width="8" height="8" fill="#B4F8A8"/>
<rect x="99" y="86" width="17" height="8" fill="#78F578"/>
<rect x="116" y="86" width="34" height="8" fill="#B4F8A8"/>
<rect x="150" y="86" width="25" height="8" fill="#B4F0FA"/>
<rect x="175" y="86" width="9" height="8" fill="#78F578"/>
<rect x="184" y="86" width="8" height="8" fill="#B4F0FA"/>
<rect x="192" y="86" width="17" height="8" fill="#78F578"/>
<rect x="209" y="86" width="26" height="8" fill="#B4F8A8"/>
<rect x="243" y="86" width="16" height="8" fill="#B4F8A8"/>
<rect x="14" y="94" width="43" height="9" fill="#B4F8A8"/>
<rect x="74" y="94" width="17" height="9" fill="#78F578"/>
<rect x="91" y="94" width="25" height="9" fill="#B4F8A8"/>
<rect x="116" y="94" width="34" height="9" fill="#78F578"/>
<rect x="150" y="94" width="8" height="9" fill="#B4F0FA"/>
<rect x="158" y="94" width="34" height="9" fill="#78B4FA"/>
<rect x="192" y="94" width="9" height="9" fill="#78F578"/>
<rect x="201" y="94" width="25" height="9" fill="#EED9B5"/>
<rect x="226" y="94" width="9" height="9" fill="#B4F8A8"/>
<rect x="235" y="94" width="8" height="9" fill="#EED9B5"/>
<rect x="243" y="94" width="8" height="9" fill="#B4F8A8"/>
<rect x="251" y="94" width="8" height="9" fill="#78F578"/>
<rect x="65" y="103" width="9" height="8" fill="#1E64E6"/>
<rect x="74" y="103" width="8" height="8" fill="#78F578"/>
<rect x="82" y="103" width="9" height="8" fill="#78B4FA"/>
<rect x="91" y="103" width="8" height="8" fill="#B4F0FA"/>
<rect x="108" y="103" width="16" height="8" fill="#EED9B5"/>
<rect x="124" y="103" width="17" height="8" fill="#B4F8A8"/>
<rect x="141" y="103" width="9" height="8" fill="#78F578"/>
<rect x="150" y="103" width="8" height="8" fill="#B4F8A8"/>
<rect x="158" y="103" width="17" height="8" fill="#B4F0FA"/>
<rect x="175" y="103" width="9" height="8" fill="#78F578"/>
<rect x="184" y="103" width="8" height="8" fill="#B4F0FA"/>
<rect x="192" y="103" width="9" height="8" fill="#78F578"/>
<rect x="201" y="103" width="17" height="8" fill="#B4F8A8"/>
<rect x="218" y="103" width="8" height="8" fill="#EED9B5"/>
<rect x="226" y="103" width="9" height="8" fill="#B4F8A8"/>
<rect x="235" y="103" width="8" height="8" fill="#EED9B5"/>
<rect x="243" y="103" width="16" height="8" fill="#B4F8A8"/>
<rect x="1" y="111" width="5" height="9" fill="#78F578"/>
<rect x="6" y="111" width="8" height="9" fill="#B4F8A8"/>
<rect x="82" y="111" width="9" height="9" fill="#B4F8A8"/>
<rect x="91" y="111" width="8" height="9" fill="#B4F0FA"/>
<rect x="99" y="111" width="9" height="9" fill="#78F578"/>
<rect x="150" y="111" width="8" height="9" fill="#B4F8A8"/>
<rect x="158" y="111" width="9" height="9" fill="#B4F0FA"/>
<rect x="167" y="111" width="34" height="9" fill="#B4F8A8"/>
<rect x="201" y="111" width="17" height="9" fill="#78F578"/>
<rect x="218" y="111" width="25" height="9" fill="#B4F8A8"/>
<rect x="243" y="111" width="16" height="9" fill="#78F578"/>
<rect x="1" y="120" width="5" height="8" fill="#EED9B5"/>
<rect x="6" y="120" width="8" height="8" fill="#B4F8A8"/>
<rect x="40" y="120" width="8" height="8" fill="#EED9B5"/>
<rect x="48" y="120" width="9" height="8" fill="#B4F8A8"/>
<rect x="57" y="120" width="8" height="8" fill="#B4F0FA"/>
<rect x="65" y="120" width="9" height="8" fill="#EED9B5"/>
<rect x="91" y="120" width="8" height="8" fill="#EED9B5"/>
<rect x="99" y="120" width="17" height="8" fill="#B4F8A8"/>
<rect x="116" y="120" width="8" height="8" fill="#B4F0FA"/>
<rect x="124" y="120" width="9" height="8" fill="#B4F8A8"/>
<rect x="133" y="120" width="8" height="8" fill="#78F578"/>
<rect x="141" y="120" width="9" height="8" fill="#B4F8A8"/>
<rect x="150" y="120" width="8" height="8" fill="#EED9B5"/>
<rect x="167" y="120" width="8" height="8" fill="#B4F8A8"/>
<rect x="175" y="120" width="9" height="8" fill="#78F578"/>
<rect x="184" y="120" width="8" height="8" fill="#B4F8A8"/>
<rect x="192" y="120" width="9" height="8" fill="#EED9B5"/>
<rect x="201" y="120" width="17" height="8" fill="#B4F8A8"/>
<rect x="218" y="120" width="8" height="8" fill="#B4F0FA"/>
<rect x="226" y="120" width="17" height="8" fill="#B4F8A8"/>
<rect x="243" y="120" width="8" height="8" fill="#78F578"/>
<rect x="251" y="120" width="8" height="8" fill="#B4F8A8"/>
<rect x="1" y="128" width="22" height="9" fill="#B4F8A8"/>
<rect x="40" y="128" width="8" height="9" fill="#EED9B5"/>
<rect x="48" y="128" width="9" height="9" fill="#78F578"/>
<rect x="57" y="128" width="8" height="9" fill="#B4F0FA"/>
<rect x="65" y="128" width="9" height="9" fill="#B4F8A8"/>
<rect x="91" y="128" width="17" height="9" fill="#78F578"/>
<rect x="124" y="128" width="9" height="9" fill="#B4F8A8"/>
<rect x="133" y="128" width="8" height="9" fill="#B4F0FA"/>
<rect x="141" y="128" width="9" height="9" fill="#78B4FA"/>
<rect x="150" y="128" width="8" height="9" fill="#B4F0FA"/>
<rect x="158" y="128" width="9" height="9" fill="#78F578"/>
<rect x="175" y="128" width="9" height="9" fill="#B4F8A8"/>
<rect x="184" y="128" width="8" height="9" fill="#78F578"/>
<rect x="192" y="128" width="9" height="9" fill="#B4F8A8"/>
<rect x="201" y="128" width="17" height="9" fill="#EED9B5"/>
<rect x="218" y="128" width="33" height="9" fill="#78F578"/>
<rect x="251" y="128" width="8" height="9" fill="#B4F8A8"/>
<rect x="1" y="137" width="13" height="8" fill="#EED9B5"/>
<rect x="65" y="137" width="9" height="8" fill="#EED9B5"/>
<rect x="74" y="137" width="8" height="8" fill="#B4F8A8"/>
<rect x="116" y="137" width="17" height="8" fill="#B4F8A8"/>
<rect x="150" y="137" width="17" height="8" fill="#78B4FA"/>
<rect x="184" y="137" width="8" height="8" fill="#EED9B5"/>
<rect x="192" y="137" width="9" height="8" fill="#B4F8A8"/>
<rect x="201" y="137" width="8" height="8" fill="#78F578"/>
<rect x="209" y="137" width="9" height="8" fill="#B4F0FA"/>
<rect x="218" y="137" width="8" height="8" fill="#78F578"/>
<rect x="226" y="137" width="9" height="8" fill="#B4F8A8"/>
<rect x="235" y="137" width="24" height="8" fill="#78F578"/>
<rect x="31" y="145" width="9" height="8" fill="#B4F8A8"/>
<rect x="40" y="145" width="8" height="8" fill="#78F578"/>
<rect x="48" y="145" width="9" height="8" fill="#EED9B5"/>
<rect x="65" y="145" width="9" height="8" fill="#EED9B5"/>
<rect x="74" y="145" width="8" height="8" fill="#B4F8A8"/>
<rect x="99" y="145" width="9" height="8" fill="#EED9B5"/>
<rect x="124" y="145" width="9" height="8" fill="#EED9B5"/>
<rect x="150" y="145" width="8" height="8" fill="#78F578"/>
<rect x="158" y="145" width="9" height="8" fill="#B4F0FA"/>
<rect x="167" y="145" width="8" height="8" fill="#B4F8A8"/>
<rect x="184" y="145" width="8" height="8" fill="#EED9B5"/>
<rect x="209" y="145" width="34" height="8" fill="#B4F8A8"/>
<rect x="243" y="145" width="8" height="8" fill="#78F578"/>
<rect x="251" y="145" width="8" height="8" fill="#B4F8A8"/>
<rect x="31" y="153" width="17" height="9" fill="#B4F8A8"/>
<rect x="57" y="153" width="25" height="9" fill="#EED9B5"/>
<rect x="82" y="153" width="9" height="9" fill="#78F578"/>
<rect x="91" y="153" width="8" height="9" fill="#EED9B5"/>
<rect x="99" y="153" width="9" height="9" fill="#78F578"/>
<rect x="108" y="153" width="16" height="9" fill="#B4F0FA"/>
<rect x="124" y="153" width="9" height="9" fill="#B4F8A8"/>
<rect x="158" y="153" width="9" height="9" fill="#B4F8A8"/>
<rect x="167" y="153" width="8" height="9" fill="#EED9B5"/>
<rect x="175" y="153" width="9" height="9" fill="#B4F8A8"/>
<rect x="184" y="153" width="8" height="9" fill="#B4F0FA"/>
<rect x="192" y="153" width="9" height="9" fill="#B4F8A8"/>
<rect x="201" y="153" width="8" height="9" fill="#EED9B5"/>
<rect x="209" y="153" width="9" height="9" fill="#B4F8A8"/>
<rect x="218" y="153" width="8" height="9" fill="#EED9B5"/>
<rect x="226" y="153" width="17" height="9" fill="#B4F8A8"/>
<rect x="243" y="153" width="8" height="9" fill="#78F578"/>
<rect x="251" y="153" width="8" height="9" fill="#EED9B5"/>
<rect x="1" y="162" width="5" height="8" fill="#EED9B5"/>
<rect x="57" y="162" width="17" height="8" fill="#EED9B5"/>
<rect x="124" y="162" width="9" height="8" fill="#B4F8A8"/>
<rect x="133" y="162" width="8" height="8" fill="#78B4FA"/>
<rect x="150" y="162" width="8" height="8" fill="#78F578"/>
<rect x="158" y="162" width="9" height="8" fill="#B4F0FA"/>
<rect x="167" y="162" width="17" height="8" fill="#78F578"/>
<rect x="184" y="162" width="42" height="8" fill="#B4F8A8"/>
<rect x="226" y="162" width="33" height="8" fill="#78F578"/>
<rect x="1" y="170" width="64" height="9" fill="#B4F8A8"/>
<rect x="65" y="170" width="9" height="9" fill="#78F578"/>
<rect x="74" y="170" width="17" height="9" fill="#EED9B5"/>
<rect x="91" y="170" width="25" height="9" fill="#B4F8A8"/>
<rect x="141" y="170" width="9" height="9" fill="#EED9B5"/>
<rect x="150" y="170" width="17" height="9" fill="#78F578"/>
<rect x="167" y="170" width="51" height="9" fill="#B4F8A8"/>
<rect x="218" y="170" width="17" height="9" fill="#78F578"/>
<rect x="235" y="170" width="8" height="9" fill="#B4F8A8"/>
<rect x="243" y="170" width="8" height="9" fill="#78F578"/>
<rect x="251" y="170" width="8" height="9" fill="#B4F8A8"/>
<rect x="1" y="179" width="64" height="8" fill="#EED9B5"/>
<rect x="65" y="179" width="9" height="8" fill="#B4F8A8"/>
<rect x="74" y="179" width="17" height="8" fill="#EED9B5"/>
<rect x="99" y="179" width="9" height="8" fill="#EED9B5"/>
<rect x="108" y="179" width="8" height="8" fill="#B4F8A8"/>
<rect x="116" y="179" width="25" height="8" fill="#EED9B5"/>
<rect x="141" y="179" width="43" height="8" fill="#B4F8A8"/>
<rect x="184" y="179" width="8" height="8" fill="#EED9B5"/>
<rect x="192" y="179" width="17" height="8" fill="#B4F8A8"/>
<rect x="209" y="179" width="9" height="8" fill="#78F578"/>
<rect x="218" y="179" width="25" height="8" fill="#B4F8A8"/>
<rect x="243" y="179" width="8" height="8" fill="#78F578"/>
<rect x="251" y="179" width="8" height="8" fill="#B4F8A8"/>
<rect x="1" y="187" width="22" height="9" fill="#EED9B5"/>
<rect x="40" y="187" width="8" height="9" fill="#EED9B5"/>
<rect x="48" y="187" width="9" height="9" fill="#B4F8A8"/>
<rect x="57" y="187" width="8" height="9" fill="#EED9B5"/>
<rect x="124" y="187" width="17" height="9" fill="#EED9B5"/>
<rect x="141" y="187" width="34" height="9" fill="#B4F8A8"/>
<rect x="175" y="187" width="17" height="9" fill="#EED9B5"/>
<rect x="192" y="187" width="9" height="9" fill="#B4F8A8"/>
<rect x="201" y="187" width="8" height="9" fill="#EED9B5"/>
<rect x="209" y="187" width="26" height="9" fill="#B4F8A8"/>
<rect x="235" y="187" width="8" height="9" fill="#EED9B5"/>
<rect x="243" y="187" width="8" height="9" fill="#B4F8A8"/>
<rect x="251" y="187" width="8" height="9" fill="#EED9B5"/>
<rect x="1" y="196" width="22" height="8" fill="#EED9B5"/>
<rect x="124" y="196" width="26" height="8" fill="#EED9B5"/>
<rect x="158" y="196" width="9" height="8" fill="#EED9B5"/>
<rect x="167" y="196" width="8" height="8" fill="#B4F8A8"/>
<rect x="175" y="196" width="26" height="8" fill="#EED9B5"/>
<rect x="209" y="196" width="50" height="8" fill="#EED9B5"/>
<rect x="1" y="204" width="30" height="8" fill="#EED9B5"/>
<rect x="235" y="204" width="24" height="8" fill="#EED9B5"/>
<rect x="1" y="212" width="39" height="9" fill="#EED9B5"/>
<rect x="1" y="221" width="56" height="8" fill="#EED9B5"/>
<rect x="1" y="229" width="47" height="9" fill="#EED9B5"/>
<rect x="1" y="238" width="39" height="8" fill="#EED9B5"/>
<rect x="1" y="246" width="30" height="9" fill="#EED9B5"/>
<rect x="1" y="255" width="39" height="8" fill="#EED9B5"/>
<rect x="1" y="263" width="39" height="5" fill="#EED9B5"/>
</g>
<g fill="none" stroke="#5a5a5a" stroke-width="1" stroke-linejoin="round" shape-rendering="crispEdges"><path d="M58.8,107.1 L60.1,104.1 L64.8,102.4 L70.2,101.5 L76.2,100.9 L81.5,100.4 L86.9,101.5 L91.6,103.3 L95.6,105.1 L97.6,108.2 L102.3,107.1 L107.0,108.4 L111.7,109.1 L115.7,108.4 L117.0,104.4 L119.7,102.4 L125.0,101.1 L131.7,102.8 L137.1,104.1 L142.4,102.4 L145.4,101.5 L149.4,103.7 L154.7,105.7 L160.1,106.4 L165.4,110.4 L170.8,111.1 L174.8,109.5 L178.8,111.1 L179.5,115.8 L182.8,121.1 L186.9,122.5 L191.5,121.5 L197.6,121.1 L201.6,121.1 L204.3,122.5 L200.9,123.8 L196.2,125.8 L190.9,125.2 L187.9,125.8 L187.5,128.5 L190.9,129.2 L194.9,129.8 L198.9,131.2 L204.3,131.8 L211.0,132.5 L216.3,133.2 L220.3,136.5 L225.7,140.5 L232.4,145.9 L229.7,149.9 L227.7,153.9 L223.0,153.9 L221.7,158.0 L219.0,161.3 L217.6,158.0 L215.0,153.9 L209.6,152.6 L201.6,151.3 L193.5,152.3 L186.9,151.9 L180.2,151.0 L175.5,151.9 L172.8,153.9 L170.8,158.0 L160.2,158.5 L156.9,157.6 L156.0,153.5 L153.6,151.9 L148.6,153.5 L143.7,154.3 L140.4,155.2 L138.7,158.5 L138.7,164.2 L135.4,168.4 L132.1,173.3 L128.8,178.3 L127.2,179.6 L125.5,177.4 L122.2,175.0 L118.9,172.5 L118.9,168.4 L117.3,165.1 L115.6,161.8 L112.3,160.1 L109.0,159.3 L102.4,159.8 L95.8,160.1 L87.6,160.1 L81.0,160.9 L76.0,160.1 L67.8,158.5 L59.5,157.6 L52.9,158.5 L49.6,161.8 L47.1,164.7 L44.7,165.1 L43.0,161.8 L38.9,159.3 L34.8,156.8 L31.5,155.2 L25.7,153.5 L24.9,150.2 L26.5,145.3 L31.5,143.9 L36.4,144.4 L38.0,144.3 L47.4,145.9 L49.6,147.2 L55.4,147.9 L60.8,148.6 L67.5,149.9 L75.5,149.2 L84.9,149.9 L92.2,148.6 L95.6,146.6 L96.9,143.9 L94.3,141.2 L88.9,138.5 L83.5,133.9 L80.9,129.8 L84.2,128.5 L82.2,126.5 L82.9,122.5 L84.2,117.8 L80.2,115.1 L75.5,112.7 L70.2,110.8 L64.8,111.1 L60.1,110.0Z"/><path d="M115.7,108.4 L117.7,111.8 L118.4,115.8 L116.3,121.1 L120.4,125.2 L118.4,128.5 L111.7,133.9 L115.7,135.9 L117.7,140.5 L115.7,144.6 L107.6,145.2 L111.7,149.9 L116.3,155.3 L117.0,159.3 L115.6,161.8"/><path d="M75.5,96.6 L78.2,95.6 L82.2,95.8 L86.9,97.4 L83.5,98.2 L78.2,97.7Z"/><path d="M65.1,134.1 L68.8,133.5 L74.2,135.9 L79.5,137.9 L81.1,141.2 L76.9,141.9 L70.2,139.5 L65.5,137.2Z"/><path d="M0.8,75.2 L4.9,75.2 L9.9,75.2 L12.4,77.3 L15.3,77.7 L16.5,79.4 L19.0,82.3 L21.4,84.7 L23.5,86.8 L25.6,87.2 L27.2,88.4 L29.7,88.9 L33.0,88.0 L34.6,88.9 L35.9,91.3 L34.6,92.6 L33.0,94.2 L32.6,96.3 L28.9,95.9 L24.7,96.5 L20.6,97.1 L16.5,96.7 L12.4,97.5 L9.9,98.8 L7.4,100.8 L4.9,101.6 L2.5,102.5 L0.8,102.5"/><path d="M53.5,11.2 L55.6,10.4 L58.4,10.9"/><path d="M69.1,16.6 L70.5,15.2 L73.3,15.9 L74.8,17.3 L78.3,17.7 L81.1,18.7 L83.3,19.4 L82.6,21.1 L80.4,20.9 L77.6,19.2 L74.8,19.4 L71.9,19.2 L69.8,19.4 L68.8,18.0Z"/><path d="M91.8,42.8 L93.2,41.4"/><path d="M120.1,53.5 L120.6,55.6"/><path d="M71.9,47.5 L74.0,46.4 L76.9,47.1 L77.6,48.5 L75.5,49.9 L72.6,49.9 L71.9,48.5Z"/><path d="M50.6,63.4 L52.1,60.6 L54.9,59.2 L57.7,57.7 L60.6,57.5 L63.4,59.2 L66.2,58.4 L69.1,56.3 L71.2,54.2 L72.6,53.5 L74.0,54.2 L73.3,57.0 L72.6,60.6 L70.5,63.4 L67.7,65.5 L64.8,66.2 L62.0,67.0 L57.7,67.4 L53.5,67.4 L51.4,66.2Z"/><path d="M51.0,162.6 L53.5,162.2 L54.0,163.6 L51.5,163.9Z"/><path d="M244.4,163.5 L246.0,162.6 L248.4,162.9 L247.5,164.4 L245.2,164.4Z"/><path d="M123.0,179.5 L125.0,179.5 L125.0,181.3 L123.0,181.3Z"/><path d="M218.0,159.6 L220.5,158.9 L223.0,160.3 L220.5,161.6Z"/><path d="M10.2,1.2 L12.3,2.4"/><path d="M28.7,2.7 L30.8,4.1 L33.6,6.4 L37.9,7.4 L43.6,7.0 L46.7,6.7 L45.7,9.5 L45.0,13.1 L43.6,15.2 L41.4,16.9 L38.6,18.7 L35.8,20.9 L33.3,23.0 L31.5,25.1 L29.8,27.2" stroke-width="1.8"/><path d="M30.8,6.7 L29.4,8.8 L28.0,10.9 L27.2,12.6" stroke-width="1.8"/><path d="M96.0,39.3 L97.5,36.5 L98.9,38.6 L101.7,38.6 L106.0,35.0 L107.4,32.9 L110.2,32.9 L113.1,35.8 L117.3,37.9 L121.6,39.3 L125.1,41.4 L126.5,42.8 L125.8,45.0 L125.1,47.1 L123.7,49.2" stroke-width="1.8"/><path d="M134.2,54.8 L135.6,52.0 L137.8,47.6" stroke-width="1.8"/><rect x="5" y="152.5" width="1.5" height="1.5" fill="#5a5a5a" stroke="none"/></g>
<rect x="0.5" y="0.5" width="259" height="269" fill="none" stroke="#000" stroke-width="1" shape-rendering="crispEdges"/>
</svg>
<svg class="pn" style="left:567px;top:30px" width="260" height="270" viewBox="0 0 260 270">
<g shape-rendering="crispEdges">
<rect x="1" y="1" width="22" height="9" fill="#B4F0FA"/>
<rect x="23" y="1" width="17" height="9" fill="#78B4FA"/>
<rect x="40" y="1" width="84" height="9" fill="#B4F0FA"/>
<rect x="124" y="1" width="26" height="9" fill="#B4F8A8"/>
<rect x="150" y="1" width="109" height="9" fill="#78F578"/>
<rect x="1" y="10" width="22" height="8" fill="#B4F0FA"/>
<rect x="23" y="10" width="34" height="8" fill="#78B4FA"/>
<rect x="57" y="10" width="67" height="8" fill="#B4F0FA"/>
<rect x="124" y="10" width="17" height="8" fill="#B4F8A8"/>
<rect x="141" y="10" width="9" height="8" fill="#78F578"/>
<rect x="150" y="10" width="17" height="8" fill="#B4F8A8"/>
<rect x="167" y="10" width="68" height="8" fill="#78F578"/>
<rect x="235" y="10" width="8" height="8" fill="#B4F0FA"/>
<rect x="243" y="10" width="8" height="8" fill="#78F578"/>
<rect x="251" y="10" width="8" height="8" fill="#B4F8A8"/>
<rect x="1" y="18" width="5" height="9" fill="#78F578"/>
<rect x="6" y="18" width="25" height="9" fill="#B4F0FA"/>
<rect x="31" y="18" width="17" height="9" fill="#78B4FA"/>
<rect x="48" y="18" width="17" height="9" fill="#B4F0FA"/>
<rect x="65" y="18" width="34" height="9" fill="#78F578"/>
<rect x="99" y="18" width="25" height="9" fill="#B4F0FA"/>
<rect x="124" y="18" width="9" height="9" fill="#B4F8A8"/>
<rect x="133" y="18" width="17" height="9" fill="#EED9B5"/>
<rect x="150" y="18" width="25" height="9" fill="#B4F8A8"/>
<rect x="175" y="18" width="26" height="9" fill="#78F578"/>
<rect x="201" y="18" width="8" height="9" fill="#B4F0FA"/>
<rect x="209" y="18" width="9" height="9" fill="#78F578"/>
<rect x="218" y="18" width="17" height="9" fill="#B4F8A8"/>
<rect x="235" y="18" width="16" height="9" fill="#B4F0FA"/>
<rect x="251" y="18" width="8" height="9" fill="#78F578"/>
<rect x="1" y="27" width="5" height="8" fill="#78F578"/>
<rect x="6" y="27" width="17" height="8" fill="#B4F0FA"/>
<rect x="23" y="27" width="8" height="8" fill="#78B4FA"/>
<rect x="31" y="27" width="34" height="8" fill="#B4F0FA"/>
<rect x="65" y="27" width="9" height="8" fill="#78F578"/>
<rect x="74" y="27" width="17" height="8" fill="#B4F8A8"/>
<rect x="91" y="27" width="17" height="8" fill="#78F578"/>
<rect x="108" y="27" width="8" height="8" fill="#B4F0FA"/>
<rect x="116" y="27" width="8" height="8" fill="#78F578"/>
<rect x="124" y="27" width="34" height="8" fill="#B4F8A8"/>
<rect x="158" y="27" width="43" height="8" fill="#78F578"/>
<rect x="201" y="27" width="8" height="8" fill="#B4F8A8"/>
<rect x="209" y="27" width="9" height="8" fill="#78F578"/>
<rect x="218" y="27" width="8" height="8" fill="#B4F0FA"/>
<rect x="226" y="27" width="17" height="8" fill="#78F578"/>
<rect x="243" y="27" width="16" height="8" fill="#B4F0FA"/>
<rect x="1" y="35" width="5" height="9" fill="#78F578"/>
<rect x="6" y="35" width="17" height="9" fill="#B4F0FA"/>
<rect x="23" y="35" width="25" height="9" fill="#78F578"/>
<rect x="48" y="35" width="68" height="9" fill="#B4F8A8"/>
<rect x="116" y="35" width="8" height="9" fill="#78F578"/>
<rect x="124" y="35" width="43" height="9" fill="#B4F8A8"/>
<rect x="167" y="35" width="8" height="9" fill="#78F578"/>
<rect x="175" y="35" width="9" height="9" fill="#B4F8A8"/>
<rect x="184" y="35" width="17" height="9" fill="#78F578"/>
<rect x="201" y="35" width="25" height="9" fill="#B4F8A8"/>
<rect x="226" y="35" width="33" height="9" fill="#78F578"/>
<rect x="1" y="44" width="5" height="8" fill="#78F578"/>
<rect x="6" y="44" width="17" height="8" fill="#B4F8A8"/>
<rect x="23" y="44" width="17" height="8" fill="#78F578"/>
<rect x="40" y="44" width="17" height="8" fill="#B4F8A8"/>
<rect x="57" y="44" width="8" height="8" fill="#78F578"/>
<rect x="65" y="44" width="17" height="8" fill="#B4F0FA"/>
<rect x="82" y="44" width="9" height="8" fill="#78F578"/>
<rect x="91" y="44" width="8" height="8" fill="#B4F8A8"/>
<rect x="99" y="44" width="9" height="8" fill="#EED9B5"/>
<rect x="108" y="44" width="67" height="8" fill="#B4F8A8"/>
<rect x="175" y="44" width="9" height="8" fill="#78F578"/>
<rect x="184" y="44" width="8" height="8" fill="#B4F8A8"/>
<rect x="192" y="44" width="17" height="8" fill="#78F578"/>
<rect x="209" y="44" width="17" height="8" fill="#B4F8A8"/>
<rect x="226" y="44" width="17" height="8" fill="#78F578"/>
<rect x="243" y="44" width="8" height="8" fill="#B4F0FA"/>
<rect x="251" y="44" width="8" height="8" fill="#78F578"/>
<rect x="1" y="52" width="5" height="9" fill="#B4F0FA"/>
<rect x="6" y="52" width="34" height="9" fill="#78F578"/>
<rect x="40" y="52" width="17" height="9" fill="#B4F8A8"/>
<rect x="57" y="52" width="17" height="9" fill="#B4F0FA"/>
<rect x="74" y="52" width="8" height="9" fill="#78B4FA"/>
<rect x="82" y="52" width="9" height="9" fill="#78F578"/>
<rect x="91" y="52" width="33" height="9" fill="#B4F8A8"/>
<rect x="124" y="52" width="26" height="9" fill="#78F578"/>
<rect x="150" y="52" width="85" height="9" fill="#B4F8A8"/>
<rect x="235" y="52" width="24" height="9" fill="#78F578"/>
<rect x="1" y="61" width="5" height="8" fill="#78F578"/>
<rect x="6" y="61" width="34" height="8" fill="#B4F0FA"/>
<rect x="40" y="61" width="17" height="8" fill="#B4F8A8"/>
<rect x="57" y="61" width="17" height="8" fill="#78F578"/>
<rect x="74" y="61" width="8" height="8" fill="#78B4FA"/>
<rect x="82" y="61" width="9" height="8" fill="#78F578"/>
<rect x="91" y="61" width="33" height="8" fill="#B4F8A8"/>
<rect x="124" y="61" width="51" height="8" fill="#78F578"/>
<rect x="175" y="61" width="34" height="8" fill="#B4F8A8"/>
<rect x="209" y="61" width="9" height="8" fill="#78F578"/>
<rect x="218" y="61" width="8" height="8" fill="#B4F8A8"/>
<rect x="226" y="61" width="17" height="8" fill="#EED9B5"/>
<rect x="243" y="61" width="16" height="8" fill="#B4F8A8"/>
<rect x="6" y="69" width="17" height="8" fill="#B4F8A8"/>
<rect x="23" y="69" width="25" height="8" fill="#78F578"/>
<rect x="48" y="69" width="17" height="8" fill="#B4F8A8"/>
<rect x="65" y="69" width="9" height="8" fill="#B4F0FA"/>
<rect x="74" y="69" width="17" height="8" fill="#78F578"/>
<rect x="91" y="69" width="33" height="8" fill="#B4F8A8"/>
<rect x="124" y="69" width="17" height="8" fill="#78F578"/>
<rect x="141" y="69" width="9" height="8" fill="#B4F0FA"/>
<rect x="150" y="69" width="42" height="8" fill="#78F578"/>
<rect x="192" y="69" width="26" height="8" fill="#B4F8A8"/>
<rect x="218" y="69" width="8" height="8" fill="#78F578"/>
<rect x="226" y="69" width="9" height="8" fill="#B4F8A8"/>
<rect x="235" y="69" width="8" height="8" fill="#EED9B5"/>
<rect x="243" y="69" width="8" height="8" fill="#B4F8A8"/>
<rect x="251" y="69" width="8" height="8" fill="#78F578"/>
<rect x="1" y="77" width="5" height="9" fill="#B4F8A8"/>
<rect x="6" y="77" width="8" height="9" fill="#B4F0FA"/>
<rect x="14" y="77" width="9" height="9" fill="#78B4FA"/>
<rect x="23" y="77" width="25" height="9" fill="#78F578"/>
<rect x="48" y="77" width="9" height="9" fill="#B4F8A8"/>
<rect x="57" y="77" width="34" height="9" fill="#78F578"/>
<rect x="91" y="77" width="17" height="9" fill="#B4F8A8"/>
<rect x="108" y="77" width="33" height="9" fill="#78F578"/>
<rect x="141" y="77" width="26" height="9" fill="#B4F0FA"/>
<rect x="167" y="77" width="8" height="9" fill="#78F578"/>
<rect x="175" y="77" width="17" height="9" fill="#B4F8A8"/>
<rect x="192" y="77" width="17" height="9" fill="#78F578"/>
<rect x="209" y="77" width="17" height="9" fill="#B4F8A8"/>
<rect x="226" y="77" width="9" height="9" fill="#78F578"/>
<rect x="235" y="77" width="8" height="9" fill="#EED9B5"/>
<rect x="243" y="77" width="8" height="9" fill="#B4F8A8"/>
<rect x="251" y="77" width="8" height="9" fill="#78F578"/>
<rect x="1" y="86" width="5" height="8" fill="#B4F0FA"/>
<rect x="6" y="86" width="8" height="8" fill="#1E64E6"/>
<rect x="14" y="86" width="17" height="8" fill="#B4F0FA"/>
<rect x="31" y="86" width="17" height="8" fill="#B4F8A8"/>
<rect x="48" y="86" width="68" height="8" fill="#78F578"/>
<rect x="116" y="86" width="8" height="8" fill="#B4F8A8"/>
<rect x="124" y="86" width="17" height="8" fill="#78F578"/>
<rect x="141" y="86" width="34" height="8" fill="#B4F0FA"/>
<rect x="175" y="86" width="9" height="8" fill="#78F578"/>
<rect x="184" y="86" width="8" height="8" fill="#B4F8A8"/>
<rect x="192" y="86" width="17" height="8" fill="#78F578"/>
<rect x="209" y="86" width="17" height="8" fill="#B4F8A8"/>
<rect x="226" y="86" width="9" height="8" fill="#78F578"/>
<rect x="235" y="86" width="16" height="8" fill="#B4F8A8"/>
<rect x="251" y="86" width="8" height="8" fill="#EED9B5"/>
<rect x="14" y="94" width="26" height="9" fill="#78F578"/>
<rect x="40" y="94" width="17" height="9" fill="#B4F8A8"/>
<rect x="57" y="94" width="8" height="9" fill="#EED9B5"/>
<rect x="65" y="94" width="43" height="9" fill="#B4F8A8"/>
<rect x="108" y="94" width="16" height="9" fill="#78F578"/>
<rect x="124" y="94" width="9" height="9" fill="#B4F0FA"/>
<rect x="133" y="94" width="8" height="9" fill="#78F578"/>
<rect x="141" y="94" width="43" height="9" fill="#B4F0FA"/>
<rect x="184" y="94" width="25" height="9" fill="#78F578"/>
<rect x="209" y="94" width="42" height="9" fill="#B4F8A8"/>
<rect x="251" y="94" width="8" height="9" fill="#EED9B5"/>
<rect x="31" y="103" width="9" height="8" fill="#EED9B5"/>
<rect x="40" y="103" width="17" height="8" fill="#B4F8A8"/>
<rect x="57" y="103" width="8" height="8" fill="#EED9B5"/>
<rect x="65" y="103" width="9" height="8" fill="#3C96F5"/>
<rect x="74" y="103" width="25" height="8" fill="#B4F0FA"/>
<rect x="116" y="103" width="8" height="8" fill="#B4F8A8"/>
<rect x="124" y="103" width="17" height="8" fill="#78F578"/>
<rect x="141" y="103" width="9" height="8" fill="#B4F0FA"/>
<rect x="150" y="103" width="8" height="8" fill="#78F578"/>
<rect x="158" y="103" width="9" height="8" fill="#B4F0FA"/>
<rect x="167" y="103" width="8" height="8" fill="#78B4FA"/>
<rect x="175" y="103" width="9" height="8" fill="#78F578"/>
<rect x="184" y="103" width="17" height="8" fill="#B4F0FA"/>
<rect x="201" y="103" width="25" height="8" fill="#78F578"/>
<rect x="226" y="103" width="9" height="8" fill="#B4F8A8"/>
<rect x="235" y="103" width="8" height="8" fill="#78F578"/>
<rect x="243" y="103" width="16" height="8" fill="#B4F8A8"/>
<rect x="6" y="111" width="17" height="9" fill="#EED9B5"/>
<rect x="23" y="111" width="8" height="9" fill="#B4F8A8"/>
<rect x="74" y="111" width="8" height="9" fill="#EED9B5"/>
<rect x="82" y="111" width="26" height="9" fill="#B4F0FA"/>
<rect x="108" y="111" width="8" height="9" fill="#B4F8A8"/>
<rect x="116" y="111" width="8" height="9" fill="#78F578"/>
<rect x="124" y="111" width="17" height="9" fill="#B4F8A8"/>
<rect x="141" y="111" width="9" height="9" fill="#EED9B5"/>
<rect x="150" y="111" width="8" height="9" fill="#78F578"/>
<rect x="158" y="111" width="9" height="9" fill="#B4F0FA"/>
<rect x="167" y="111" width="8" height="9" fill="#78F578"/>
<rect x="175" y="111" width="9" height="9" fill="#B4F0FA"/>
<rect x="184" y="111" width="8" height="9" fill="#78B4FA"/>
<rect x="192" y="111" width="9" height="9" fill="#B4F0FA"/>
<rect x="201" y="111" width="8" height="9" fill="#78B4FA"/>
<rect x="209" y="111" width="9" height="9" fill="#B4F0FA"/>
<rect x="218" y="111" width="33" height="9" fill="#78F578"/>
<rect x="251" y="111" width="8" height="9" fill="#B4F8A8"/>
<rect x="23" y="120" width="8" height="8" fill="#B4F8A8"/>
<rect x="31" y="120" width="9" height="8" fill="#EED9B5"/>
<rect x="48" y="120" width="9" height="8" fill="#B4F8A8"/>
<rect x="57" y="120" width="8" height="8" fill="#EED9B5"/>
<rect x="65" y="120" width="9" height="8" fill="#B4F8A8"/>
<rect x="74" y="120" width="8" height="8" fill="#78F578"/>
<rect x="91" y="120" width="8" height="8" fill="#78F578"/>
<rect x="99" y="120" width="9" height="8" fill="#B4F0FA"/>
<rect x="108" y="120" width="8" height="8" fill="#78F578"/>
<rect x="116" y="120" width="8" height="8" fill="#B4F0FA"/>
<rect x="124" y="120" width="9" height="8" fill="#78F578"/>
<rect x="133" y="120" width="8" height="8" fill="#B4F0FA"/>
<rect x="141" y="120" width="9" height="8" fill="#78F578"/>
<rect x="150" y="120" width="8" height="8" fill="#B4F8A8"/>
<rect x="167" y="120" width="8" height="8" fill="#78F578"/>
<rect x="175" y="120" width="9" height="8" fill="#78B4FA"/>
<rect x="184" y="120" width="8" height="8" fill="#78F578"/>
<rect x="192" y="120" width="9" height="8" fill="#3C96F5"/>
<rect x="201" y="120" width="17" height="8" fill="#78B4FA"/>
<rect x="218" y="120" width="8" height="8" fill="#3C96F5"/>
<rect x="226" y="120" width="17" height="8" fill="#B4F0FA"/>
<rect x="243" y="120" width="16" height="8" fill="#78F578"/>
<rect x="23" y="128" width="17" height="9" fill="#B4F8A8"/>
<rect x="40" y="128" width="8" height="9" fill="#EED9B5"/>
<rect x="48" y="128" width="17" height="9" fill="#B4F8A8"/>
<rect x="65" y="128" width="17" height="9" fill="#78F578"/>
<rect x="82" y="128" width="9" height="9" fill="#B4F8A8"/>
<rect x="91" y="128" width="8" height="9" fill="#3C96F5"/>
<rect x="99" y="128" width="9" height="9" fill="#78B4FA"/>
<rect x="108" y="128" width="8" height="9" fill="#B4F0FA"/>
<rect x="116" y="128" width="17" height="9" fill="#78F578"/>
<rect x="133" y="128" width="8" height="9" fill="#3C96F5"/>
<rect x="141" y="128" width="9" height="9" fill="#FFA000"/>
<rect x="150" y="128" width="8" height="9" fill="#78B4FA"/>
<rect x="158" y="128" width="9" height="9" fill="#B4F0FA"/>
<rect x="175" y="128" width="9" height="9" fill="#B4F8A8"/>
<rect x="184" y="128" width="17" height="9" fill="#78F578"/>
<rect x="201" y="128" width="8" height="9" fill="#EED9B5"/>
<rect x="209" y="128" width="9" height="9" fill="#B4F0FA"/>
<rect x="218" y="128" width="8" height="9" fill="#1E64E6"/>
<rect x="226" y="128" width="9" height="9" fill="#78B4FA"/>
<rect x="235" y="128" width="16" height="9" fill="#78F578"/>
<rect x="251" y="128" width="8" height="9" fill="#B4F8A8"/>
<rect x="14" y="137" width="26" height="8" fill="#B4F8A8"/>
<rect x="57" y="137" width="8" height="8" fill="#EED9B5"/>
<rect x="74" y="137" width="8" height="8" fill="#B4F8A8"/>
<rect x="82" y="137" width="9" height="8" fill="#EED9B5"/>
<rect x="91" y="137" width="8" height="8" fill="#78F578"/>
<rect x="99" y="137" width="9" height="8" fill="#B4F0FA"/>
<rect x="108" y="137" width="8" height="8" fill="#78F578"/>
<rect x="116" y="137" width="8" height="8" fill="#78B4FA"/>
<rect x="124" y="137" width="9" height="8" fill="#B4F8A8"/>
<rect x="141" y="137" width="9" height="8" fill="#EED9B5"/>
<rect x="150" y="137" width="17" height="8" fill="#3C96F5"/>
<rect x="167" y="137" width="17" height="8" fill="#EED9B5"/>
<rect x="184" y="137" width="17" height="8" fill="#B4F8A8"/>
<rect x="201" y="137" width="8" height="8" fill="#78F578"/>
<rect x="209" y="137" width="9" height="8" fill="#78B4FA"/>
<rect x="218" y="137" width="17" height="8" fill="#B4F0FA"/>
<rect x="235" y="137" width="8" height="8" fill="#78F578"/>
<rect x="243" y="137" width="16" height="8" fill="#EED9B5"/>
<rect x="6" y="145" width="8" height="8" fill="#B4F8A8"/>
<rect x="14" y="145" width="26" height="8" fill="#78F578"/>
<rect x="40" y="145" width="8" height="8" fill="#B4F8A8"/>
<rect x="48" y="145" width="9" height="8" fill="#78F578"/>
<rect x="57" y="145" width="17" height="8" fill="#B4F8A8"/>
<rect x="99" y="145" width="17" height="8" fill="#B4F8A8"/>
<rect x="124" y="145" width="9" height="8" fill="#B4F8A8"/>
<rect x="150" y="145" width="17" height="8" fill="#78F578"/>
<rect x="167" y="145" width="8" height="8" fill="#B4F8A8"/>
<rect x="218" y="145" width="8" height="8" fill="#EED9B5"/>
<rect x="226" y="145" width="9" height="8" fill="#B4F8A8"/>
<rect x="235" y="145" width="8" height="8" fill="#EED9B5"/>
<rect x="6" y="153" width="17" height="9" fill="#B4F8A8"/>
<rect x="31" y="153" width="17" height="9" fill="#78F578"/>
<rect x="48" y="153" width="9" height="9" fill="#EED9B5"/>
<rect x="57" y="153" width="8" height="9" fill="#78F578"/>
<rect x="65" y="153" width="9" height="9" fill="#B4F8A8"/>
<rect x="74" y="153" width="8" height="9" fill="#B4F0FA"/>
<rect x="82" y="153" width="9" height="9" fill="#78B4FA"/>
<rect x="91" y="153" width="8" height="9" fill="#78F578"/>
<rect x="99" y="153" width="17" height="9" fill="#B4F0FA"/>
<rect x="116" y="153" width="8" height="9" fill="#78B4FA"/>
<rect x="124" y="153" width="9" height="9" fill="#B4F8A8"/>
<rect x="141" y="153" width="9" height="9" fill="#B4F8A8"/>
<rect x="184" y="153" width="8" height="9" fill="#B4F8A8"/>
<rect x="192" y="153" width="9" height="9" fill="#EED9B5"/>
<rect x="6" y="162" width="8" height="8" fill="#EED9B5"/>
<rect x="14" y="162" width="9" height="8" fill="#B4F8A8"/>
<rect x="23" y="162" width="8" height="8" fill="#EED9B5"/>
<rect x="57" y="162" width="8" height="8" fill="#EED9B5"/>
<rect x="82" y="162" width="9" height="8" fill="#EED9B5"/>
<rect x="91" y="162" width="17" height="8" fill="#78F578"/>
<rect x="124" y="162" width="9" height="8" fill="#B4F8A8"/>
<rect x="133" y="162" width="8" height="8" fill="#EED9B5"/>
<rect x="150" y="162" width="8" height="8" fill="#78F578"/>
<rect x="1" y="170" width="5" height="9" fill="#B4F8A8"/>
<rect x="6" y="170" width="34" height="9" fill="#EED9B5"/>
<rect x="40" y="170" width="17" height="9" fill="#B4F8A8"/>
<rect x="57" y="170" width="17" height="9" fill="#78F578"/>
<rect x="74" y="170" width="17" height="9" fill="#EED9B5"/>
<rect x="91" y="170" width="8" height="9" fill="#B4F8A8"/>
<rect x="99" y="170" width="9" height="9" fill="#78F578"/>
<rect x="108" y="170" width="8" height="9" fill="#B4F8A8"/>
<rect x="1" y="179" width="5" height="8" fill="#EED9B5"/>
<rect x="40" y="179" width="17" height="8" fill="#EED9B5"/>
<rect x="74" y="179" width="34" height="8" fill="#EED9B5"/>
<rect x="40" y="187" width="8" height="9" fill="#EED9B5"/>
<rect x="6" y="196" width="25" height="8" fill="#EED9B5"/>
<rect x="40" y="196" width="17" height="8" fill="#EED9B5"/>
<rect x="1" y="204" width="90" height="8" fill="#EED9B5"/>
<rect x="1" y="212" width="98" height="9" fill="#EED9B5"/>
<rect x="1" y="221" width="98" height="8" fill="#EED9B5"/>
<rect x="1" y="229" width="107" height="9" fill="#EED9B5"/>
<rect x="1" y="238" width="115" height="8" fill="#EED9B5"/>
<rect x="1" y="246" width="115" height="9" fill="#EED9B5"/>
<rect x="1" y="255" width="73" height="8" fill="#EED9B5"/>
<rect x="1" y="263" width="13" height="5" fill="#B4F8A8"/>
<rect x="14" y="263" width="51" height="5" fill="#EED9B5"/>
</g>
<g fill="none" stroke="#5a5a5a" stroke-width="1" stroke-linejoin="round" shape-rendering="crispEdges"><path d="M58.8,107.1 L60.1,104.1 L64.8,102.4 L70.2,101.5 L76.2,100.9 L81.5,100.4 L86.9,101.5 L91.6,103.3 L95.6,105.1 L97.6,108.2 L102.3,107.1 L107.0,108.4 L111.7,109.1 L115.7,108.4 L117.0,104.4 L119.7,102.4 L125.0,101.1 L131.7,102.8 L137.1,104.1 L142.4,102.4 L145.4,101.5 L149.4,103.7 L154.7,105.7 L160.1,106.4 L165.4,110.4 L170.8,111.1 L174.8,109.5 L178.8,111.1 L179.5,115.8 L182.8,121.1 L186.9,122.5 L191.5,121.5 L197.6,121.1 L201.6,121.1 L204.3,122.5 L200.9,123.8 L196.2,125.8 L190.9,125.2 L187.9,125.8 L187.5,128.5 L190.9,129.2 L194.9,129.8 L198.9,131.2 L204.3,131.8 L211.0,132.5 L216.3,133.2 L220.3,136.5 L225.7,140.5 L232.4,145.9 L229.7,149.9 L227.7,153.9 L223.0,153.9 L221.7,158.0 L219.0,161.3 L217.6,158.0 L215.0,153.9 L209.6,152.6 L201.6,151.3 L193.5,152.3 L186.9,151.9 L180.2,151.0 L175.5,151.9 L172.8,153.9 L170.8,158.0 L160.2,158.5 L156.9,157.6 L156.0,153.5 L153.6,151.9 L148.6,153.5 L143.7,154.3 L140.4,155.2 L138.7,158.5 L138.7,164.2 L135.4,168.4 L132.1,173.3 L128.8,178.3 L127.2,179.6 L125.5,177.4 L122.2,175.0 L118.9,172.5 L118.9,168.4 L117.3,165.1 L115.6,161.8 L112.3,160.1 L109.0,159.3 L102.4,159.8 L95.8,160.1 L87.6,160.1 L81.0,160.9 L76.0,160.1 L67.8,158.5 L59.5,157.6 L52.9,158.5 L49.6,161.8 L47.1,164.7 L44.7,165.1 L43.0,161.8 L38.9,159.3 L34.8,156.8 L31.5,155.2 L25.7,153.5 L24.9,150.2 L26.5,145.3 L31.5,143.9 L36.4,144.4 L38.0,144.3 L47.4,145.9 L49.6,147.2 L55.4,147.9 L60.8,148.6 L67.5,149.9 L75.5,149.2 L84.9,149.9 L92.2,148.6 L95.6,146.6 L96.9,143.9 L94.3,141.2 L88.9,138.5 L83.5,133.9 L80.9,129.8 L84.2,128.5 L82.2,126.5 L82.9,122.5 L84.2,117.8 L80.2,115.1 L75.5,112.7 L70.2,110.8 L64.8,111.1 L60.1,110.0Z"/><path d="M115.7,108.4 L117.7,111.8 L118.4,115.8 L116.3,121.1 L120.4,125.2 L118.4,128.5 L111.7,133.9 L115.7,135.9 L117.7,140.5 L115.7,144.6 L107.6,145.2 L111.7,149.9 L116.3,155.3 L117.0,159.3 L115.6,161.8"/><path d="M75.5,96.6 L78.2,95.6 L82.2,95.8 L86.9,97.4 L83.5,98.2 L78.2,97.7Z"/><path d="M65.1,134.1 L68.8,133.5 L74.2,135.9 L79.5,137.9 L81.1,141.2 L76.9,141.9 L70.2,139.5 L65.5,137.2Z"/><path d="M0.8,75.2 L4.9,75.2 L9.9,75.2 L12.4,77.3 L15.3,77.7 L16.5,79.4 L19.0,82.3 L21.4,84.7 L23.5,86.8 L25.6,87.2 L27.2,88.4 L29.7,88.9 L33.0,88.0 L34.6,88.9 L35.9,91.3 L34.6,92.6 L33.0,94.2 L32.6,96.3 L28.9,95.9 L24.7,96.5 L20.6,97.1 L16.5,96.7 L12.4,97.5 L9.9,98.8 L7.4,100.8 L4.9,101.6 L2.5,102.5 L0.8,102.5"/><path d="M53.5,11.2 L55.6,10.4 L58.4,10.9"/><path d="M69.1,16.6 L70.5,15.2 L73.3,15.9 L74.8,17.3 L78.3,17.7 L81.1,18.7 L83.3,19.4 L82.6,21.1 L80.4,20.9 L77.6,19.2 L74.8,19.4 L71.9,19.2 L69.8,19.4 L68.8,18.0Z"/><path d="M91.8,42.8 L93.2,41.4"/><path d="M120.1,53.5 L120.6,55.6"/><path d="M71.9,47.5 L74.0,46.4 L76.9,47.1 L77.6,48.5 L75.5,49.9 L72.6,49.9 L71.9,48.5Z"/><path d="M50.6,63.4 L52.1,60.6 L54.9,59.2 L57.7,57.7 L60.6,57.5 L63.4,59.2 L66.2,58.4 L69.1,56.3 L71.2,54.2 L72.6,53.5 L74.0,54.2 L73.3,57.0 L72.6,60.6 L70.5,63.4 L67.7,65.5 L64.8,66.2 L62.0,67.0 L57.7,67.4 L53.5,67.4 L51.4,66.2Z"/><path d="M51.0,162.6 L53.5,162.2 L54.0,163.6 L51.5,163.9Z"/><path d="M244.4,163.5 L246.0,162.6 L248.4,162.9 L247.5,164.4 L245.2,164.4Z"/><path d="M123.0,179.5 L125.0,179.5 L125.0,181.3 L123.0,181.3Z"/><path d="M218.0,159.6 L220.5,158.9 L223.0,160.3 L220.5,161.6Z"/><path d="M10.2,1.2 L12.3,2.4"/><path d="M28.7,2.7 L30.8,4.1 L33.6,6.4 L37.9,7.4 L43.6,7.0 L46.7,6.7 L45.7,9.5 L45.0,13.1 L43.6,15.2 L41.4,16.9 L38.6,18.7 L35.8,20.9 L33.3,23.0 L31.5,25.1 L29.8,27.2" stroke-width="1.8"/><path d="M30.8,6.7 L29.4,8.8 L28.0,10.9 L27.2,12.6" stroke-width="1.8"/><path d="M96.0,39.3 L97.5,36.5 L98.9,38.6 L101.7,38.6 L106.0,35.0 L107.4,32.9 L110.2,32.9 L113.1,35.8 L117.3,37.9 L121.6,39.3 L125.1,41.4 L126.5,42.8 L125.8,45.0 L125.1,47.1 L123.7,49.2" stroke-width="1.8"/><path d="M134.2,54.8 L135.6,52.0 L137.8,47.6" stroke-width="1.8"/><rect x="5" y="152.5" width="1.5" height="1.5" fill="#5a5a5a" stroke="none"/></g>
<rect x="0.5" y="0.5" width="259" height="269" fill="none" stroke="#000" stroke-width="1" shape-rendering="crispEdges"/>
</svg>
<svg class="pn" style="left:10px;top:328px" width="260" height="269" viewBox="0 0 260 269">
<g shape-rendering="crispEdges">
<rect x="1" y="1" width="5" height="9" fill="#78B4FA"/>
<rect x="6" y="1" width="25" height="9" fill="#3C96F5"/>
<rect x="31" y="1" width="17" height="9" fill="#B4F0FA"/>
<rect x="48" y="1" width="9" height="9" fill="#78B4FA"/>
<rect x="57" y="1" width="17" height="9" fill="#3C96F5"/>
<rect x="74" y="1" width="8" height="9" fill="#1E64E6"/>
<rect x="82" y="1" width="42" height="9" fill="#3C96F5"/>
<rect x="124" y="1" width="26" height="9" fill="#78B4FA"/>
<rect x="150" y="1" width="8" height="9" fill="#B4F0FA"/>
<rect x="158" y="1" width="34" height="9" fill="#78B4FA"/>
<rect x="192" y="1" width="9" height="9" fill="#B4F0FA"/>
<rect x="201" y="1" width="58" height="9" fill="#78B4FA"/>
<rect x="1" y="10" width="5" height="8" fill="#3C96F5"/>
<rect x="6" y="10" width="8" height="8" fill="#1E64E6"/>
<rect x="14" y="10" width="17" height="8" fill="#3C96F5"/>
<rect x="31" y="10" width="9" height="8" fill="#78B4FA"/>
<rect x="40" y="10" width="34" height="8" fill="#B4F0FA"/>
<rect x="74" y="10" width="8" height="8" fill="#78B4FA"/>
<rect x="82" y="10" width="9" height="8" fill="#3C96F5"/>
<rect x="91" y="10" width="17" height="8" fill="#78B4FA"/>
<rect x="108" y="10" width="25" height="8" fill="#3C96F5"/>
<rect x="133" y="10" width="17" height="8" fill="#78B4FA"/>
<rect x="150" y="10" width="8" height="8" fill="#B4F0FA"/>
<rect x="158" y="10" width="17" height="8" fill="#78B4FA"/>
<rect x="175" y="10" width="84" height="8" fill="#B4F0FA"/>
<rect x="1" y="18" width="30" height="9" fill="#78B4FA"/>
<rect x="31" y="18" width="9" height="9" fill="#B4F0FA"/>
<rect x="40" y="18" width="8" height="9" fill="#78F578"/>
<rect x="48" y="18" width="9" height="9" fill="#B4F0FA"/>
<rect x="57" y="18" width="17" height="9" fill="#3C96F5"/>
<rect x="74" y="18" width="17" height="9" fill="#78B4FA"/>
<rect x="91" y="18" width="8" height="9" fill="#B4F0FA"/>
<rect x="99" y="18" width="9" height="9" fill="#78B4FA"/>
<rect x="108" y="18" width="8" height="9" fill="#3C96F5"/>
<rect x="116" y="18" width="8" height="9" fill="#1E64E6"/>
<rect x="124" y="18" width="9" height="9" fill="#3C96F5"/>
<rect x="133" y="18" width="42" height="9" fill="#78B4FA"/>
<rect x="175" y="18" width="84" height="9" fill="#B4F0FA"/>
<rect x="1" y="27" width="30" height="8" fill="#B4F0FA"/>
<rect x="31" y="27" width="9" height="8" fill="#78F578"/>
<rect x="40" y="27" width="8" height="8" fill="#B4F8A8"/>
<rect x="48" y="27" width="9" height="8" fill="#B4F0FA"/>
<rect x="57" y="27" width="8" height="8" fill="#3C96F5"/>
<rect x="65" y="27" width="9" height="8" fill="#1E64E6"/>
<rect x="74" y="27" width="8" height="8" fill="#3C96F5"/>
<rect x="82" y="27" width="9" height="8" fill="#78B4FA"/>
<rect x="91" y="27" width="17" height="8" fill="#B4F0FA"/>
<rect x="108" y="27" width="8" height="8" fill="#3C96F5"/>
<rect x="116" y="27" width="8" height="8" fill="#1E64E6"/>
<rect x="124" y="27" width="17" height="8" fill="#3C96F5"/>
<rect x="141" y="27" width="17" height="8" fill="#78B4FA"/>
<rect x="158" y="27" width="9" height="8" fill="#3C96F5"/>
<rect x="167" y="27" width="17" height="8" fill="#78B4FA"/>
<rect x="184" y="27" width="17" height="8" fill="#B4F0FA"/>
<rect x="201" y="27" width="8" height="8" fill="#78B4FA"/>
<rect x="209" y="27" width="9" height="8" fill="#B4F0FA"/>
<rect x="218" y="27" width="8" height="8" fill="#78B4FA"/>
<rect x="226" y="27" width="9" height="8" fill="#3C96F5"/>
<rect x="235" y="27" width="16" height="8" fill="#78B4FA"/>
<rect x="251" y="27" width="8" height="8" fill="#3C96F5"/>
<rect x="1" y="35" width="30" height="9" fill="#B4F0FA"/>
<rect x="31" y="35" width="9" height="9" fill="#78F578"/>
<rect x="40" y="35" width="17" height="9" fill="#B4F0FA"/>
<rect x="57" y="35" width="34" height="9" fill="#3C96F5"/>
<rect x="91" y="35" width="8" height="9" fill="#78B4FA"/>
<rect x="99" y="35" width="9" height="9" fill="#B4F0FA"/>
<rect x="108" y="35" width="8" height="9" fill="#3C96F5"/>
<rect x="116" y="35" width="8" height="9" fill="#78B4FA"/>
<rect x="124" y="35" width="9" height="9" fill="#B4F0FA"/>
<rect x="133" y="35" width="17" height="9" fill="#3C96F5"/>
<rect x="150" y="35" width="8" height="9" fill="#78F578"/>
<rect x="158" y="35" width="17" height="9" fill="#B4F0FA"/>
<rect x="175" y="35" width="9" height="9" fill="#78B4FA"/>
<rect x="184" y="35" width="8" height="9" fill="#B4F0FA"/>
<rect x="192" y="35" width="9" height="9" fill="#78F578"/>
<rect x="201" y="35" width="25" height="9" fill="#B4F0FA"/>
<rect x="226" y="35" width="9" height="9" fill="#78B4FA"/>
<rect x="235" y="35" width="8" height="9" fill="#B4F0FA"/>
<rect x="243" y="35" width="16" height="9" fill="#3C96F5"/>
<rect x="1" y="44" width="5" height="8" fill="#78B4FA"/>
<rect x="6" y="44" width="8" height="8" fill="#B4F0FA"/>
<rect x="14" y="44" width="34" height="8" fill="#78B4FA"/>
<rect x="48" y="44" width="9" height="8" fill="#3C96F5"/>
<rect x="57" y="44" width="8" height="8" fill="#1E64E6"/>
<rect x="65" y="44" width="9" height="8" fill="#3C96F5"/>
<rect x="74" y="44" width="8" height="8" fill="#78B4FA"/>
<rect x="82" y="44" width="9" height="8" fill="#3C96F5"/>
<rect x="91" y="44" width="8" height="8" fill="#78B4FA"/>
<rect x="99" y="44" width="17" height="8" fill="#B4F0FA"/>
<rect x="116" y="44" width="8" height="8" fill="#78B4FA"/>
<rect x="124" y="44" width="9" height="8" fill="#B4F0FA"/>
<rect x="133" y="44" width="17" height="8" fill="#78B4FA"/>
<rect x="150" y="44" width="25" height="8" fill="#78F578"/>
<rect x="175" y="44" width="9" height="8" fill="#B4F8A8"/>
<rect x="184" y="44" width="8" height="8" fill="#78F578"/>
<rect x="192" y="44" width="9" height="8" fill="#B4F8A8"/>
<rect x="201" y="44" width="8" height="8" fill="#B4F0FA"/>
<rect x="209" y="44" width="9" height="8" fill="#78F578"/>
<rect x="218" y="44" width="8" height="8" fill="#B4F0FA"/>
<rect x="226" y="44" width="33" height="8" fill="#78B4FA"/>
<rect x="1" y="52" width="5" height="9" fill="#B4F0FA"/>
<rect x="6" y="52" width="42" height="9" fill="#78B4FA"/>
<rect x="48" y="52" width="17" height="9" fill="#3C96F5"/>
<rect x="65" y="52" width="17" height="9" fill="#78B4FA"/>
<rect x="82" y="52" width="42" height="9" fill="#B4F0FA"/>
<rect x="124" y="52" width="9" height="9" fill="#78B4FA"/>
<rect x="133" y="52" width="8" height="9" fill="#1E64E6"/>
<rect x="141" y="52" width="9" height="9" fill="#78B4FA"/>
<rect x="150" y="52" width="8" height="9" fill="#78F578"/>
<rect x="158" y="52" width="34" height="9" fill="#B4F8A8"/>
<rect x="192" y="52" width="9" height="9" fill="#B4F0FA"/>
<rect x="201" y="52" width="8" height="9" fill="#78F578"/>
<rect x="209" y="52" width="17" height="9" fill="#B4F0FA"/>
<rect x="226" y="52" width="17" height="9" fill="#78B4FA"/>
<rect x="243" y="52" width="16" height="9" fill="#B4F0FA"/>
<rect x="1" y="61" width="5" height="8" fill="#B4F0FA"/>
<rect x="6" y="61" width="17" height="8" fill="#3C96F5"/>
<rect x="23" y="61" width="8" height="8" fill="#78B4FA"/>
<rect x="31" y="61" width="17" height="8" fill="#3C96F5"/>
<rect x="48" y="61" width="17" height="8" fill="#B4F0FA"/>
<rect x="65" y="61" width="9" height="8" fill="#B4F8A8"/>
<rect x="74" y="61" width="8" height="8" fill="#B4F0FA"/>
<rect x="82" y="61" width="9" height="8" fill="#78F578"/>
<rect x="91" y="61" width="33" height="8" fill="#B4F0FA"/>
<rect x="124" y="61" width="9" height="8" fill="#78B4FA"/>
<rect x="133" y="61" width="8" height="8" fill="#FFE678"/>
<rect x="141" y="61" width="9" height="8" fill="#B4F0FA"/>
<rect x="150" y="61" width="17" height="8" fill="#78F578"/>
<rect x="167" y="61" width="25" height="8" fill="#B4F8A8"/>
<rect x="192" y="61" width="9" height="8" fill="#78F578"/>
<rect x="201" y="61" width="17" height="8" fill="#B4F0FA"/>
<rect x="218" y="61" width="8" height="8" fill="#78F578"/>
<rect x="226" y="61" width="33" height="8" fill="#B4F0FA"/>
<rect x="1" y="69" width="5" height="8" fill="#B4F0FA"/>
<rect x="6" y="69" width="17" height="8" fill="#78B4FA"/>
<rect x="23" y="69" width="8" height="8" fill="#B4F0FA"/>
<rect x="31" y="69" width="17" height="8" fill="#78B4FA"/>
<rect x="48" y="69" width="17" height="8" fill="#B4F0FA"/>
<rect x="65" y="69" width="9" height="8" fill="#78F578"/>
<rect x="74" y="69" width="8" height="8" fill="#B4F0FA"/>
<rect x="82" y="69" width="26" height="8" fill="#78F578"/>
<rect x="108" y="69" width="16" height="8" fill="#B4F0FA"/>
<rect x="124" y="69" width="9" height="8" fill="#78B4FA"/>
<rect x="133" y="69" width="8" height="8" fill="#FFE678"/>
<rect x="141" y="69" width="9" height="8" fill="#B4F0FA"/>
<rect x="150" y="69" width="59" height="8" fill="#78F578"/>
<rect x="209" y="69" width="50" height="8" fill="#B4F0FA"/>
<rect x="1" y="77" width="13" height="9" fill="#78F578"/>
<rect x="14" y="77" width="9" height="9" fill="#3C96F5"/>
<rect x="23" y="77" width="42" height="9" fill="#B4F0FA"/>
<rect x="65" y="77" width="9" height="9" fill="#78F578"/>
<rect x="74" y="77" width="8" height="9" fill="#B4F0FA"/>
<rect x="82" y="77" width="9" height="9" fill="#78F578"/>
<rect x="91" y="77" width="42" height="9" fill="#B4F0FA"/>
<rect x="133" y="77" width="8" height="9" fill="#1E64E6"/>
<rect x="141" y="77" width="9" height="9" fill="#3C96F5"/>
<rect x="150" y="77" width="25" height="9" fill="#78F578"/>
<rect x="175" y="77" width="9" height="9" fill="#B4F0FA"/>
<rect x="184" y="77" width="8" height="9" fill="#78F578"/>
<rect x="192" y="77" width="17" height="9" fill="#B4F0FA"/>
<rect x="209" y="77" width="17" height="9" fill="#78F578"/>
<rect x="226" y="77" width="25" height="9" fill="#B4F0FA"/>
<rect x="251" y="77" width="8" height="9" fill="#78F578"/>
<rect x="1" y="86" width="5" height="8" fill="#B4F8A8"/>
<rect x="6" y="86" width="8" height="8" fill="#78B4FA"/>
<rect x="14" y="86" width="9" height="8" fill="#78F578"/>
<rect x="23" y="86" width="17" height="8" fill="#B4F8A8"/>
<rect x="40" y="86" width="8" height="8" fill="#B4F0FA"/>
<rect x="48" y="86" width="17" height="8" fill="#78F578"/>
<rect x="65" y="86" width="17" height="8" fill="#B4F8A8"/>
<rect x="82" y="86" width="9" height="8" fill="#78F578"/>
<rect x="91" y="86" width="8" height="8" fill="#B4F8A8"/>
<rect x="99" y="86" width="42" height="8" fill="#78F578"/>
<rect x="141" y="86" width="17" height="8" fill="#B4F0FA"/>
<rect x="158" y="86" width="34" height="8" fill="#78F578"/>
<rect x="192" y="86" width="26" height="8" fill="#B4F0FA"/>
<rect x="218" y="86" width="41" height="8" fill="#78F578"/>
<rect x="14" y="94" width="9" height="9" fill="#78F578"/>
<rect x="23" y="94" width="8" height="9" fill="#B4F8A8"/>
<rect x="31" y="94" width="9" height="9" fill="#78F578"/>
<rect x="48" y="94" width="9" height="9" fill="#B4F8A8"/>
<rect x="57" y="94" width="8" height="9" fill="#EED9B5"/>
<rect x="65" y="94" width="34" height="9" fill="#B4F8A8"/>
<rect x="99" y="94" width="9" height="9" fill="#EED9B5"/>
<rect x="108" y="94" width="8" height="9" fill="#B4F8A8"/>
<rect x="116" y="94" width="42" height="9" fill="#78F578"/>
<rect x="158" y="94" width="17" height="9" fill="#B4F0FA"/>
<rect x="175" y="94" width="17" height="9" fill="#78F578"/>
<rect x="192" y="94" width="17" height="9" fill="#B4F0FA"/>
<rect x="209" y="94" width="17" height="9" fill="#78F578"/>
<rect x="226" y="94" width="9" height="9" fill="#B4F8A8"/>
<rect x="235" y="94" width="24" height="9" fill="#78F578"/>
<rect x="31" y="103" width="9" height="8" fill="#EED9B5"/>
<rect x="40" y="103" width="17" height="8" fill="#B4F8A8"/>
<rect x="65" y="103" width="9" height="8" fill="#78B4FA"/>
<rect x="74" y="103" width="25" height="8" fill="#78F578"/>
<rect x="108" y="103" width="33" height="8" fill="#B4F8A8"/>
<rect x="141" y="103" width="9" height="8" fill="#78F578"/>
<rect x="150" y="103" width="8" height="8" fill="#EED9B5"/>
<rect x="158" y="103" width="9" height="8" fill="#B4F8A8"/>
<rect x="167" y="103" width="8" height="8" fill="#78F578"/>
<rect x="175" y="103" width="9" height="8" fill="#B4F8A8"/>
<rect x="184" y="103" width="17" height="8" fill="#78F578"/>
<rect x="201" y="103" width="17" height="8" fill="#B4F0FA"/>
<rect x="218" y="103" width="17" height="8" fill="#78F578"/>
<rect x="235" y="103" width="24" height="8" fill="#B4F8A8"/>
<rect x="6" y="111" width="8" height="9" fill="#EED9B5"/>
<rect x="14" y="111" width="9" height="9" fill="#B4F8A8"/>
<rect x="23" y="111" width="8" height="9" fill="#EED9B5"/>
<rect x="82" y="111" width="9" height="9" fill="#B4F8A8"/>
<rect x="99" y="111" width="9" height="9" fill="#EED9B5"/>
<rect x="108" y="111" width="25" height="9" fill="#B4F8A8"/>
<rect x="150" y="111" width="17" height="9" fill="#B4F0FA"/>
<rect x="167" y="111" width="8" height="9" fill="#B4F8A8"/>
<rect x="175" y="111" width="9" height="9" fill="#78F578"/>
<rect x="184" y="111" width="25" height="9" fill="#B4F0FA"/>
<rect x="209" y="111" width="9" height="9" fill="#78F578"/>
<rect x="218" y="111" width="8" height="9" fill="#B4F0FA"/>
<rect x="226" y="111" width="9" height="9" fill="#78F578"/>
<rect x="235" y="111" width="24" height="9" fill="#B4F8A8"/>
<rect x="14" y="120" width="9" height="8" fill="#EED9B5"/>
<rect x="48" y="120" width="17" height="8" fill="#EED9B5"/>
<rect x="65" y="120" width="17" height="8" fill="#B4F8A8"/>
<rect x="91" y="120" width="8" height="8" fill="#EED9B5"/>
<rect x="99" y="120" width="17" height="8" fill="#B4F8A8"/>
<rect x="116" y="120" width="8" height="8" fill="#78F578"/>
<rect x="133" y="120" width="17" height="8" fill="#B4F8A8"/>
<rect x="167" y="120" width="8" height="8" fill="#78F578"/>
<rect x="175" y="120" width="17" height="8" fill="#B4F0FA"/>
<rect x="192" y="120" width="9" height="8" fill="#78B4FA"/>
<rect x="201" y="120" width="8" height="8" fill="#B4F0FA"/>
<rect x="209" y="120" width="9" height="8" fill="#78F578"/>
<rect x="218" y="120" width="8" height="8" fill="#B4F0FA"/>
<rect x="226" y="120" width="17" height="8" fill="#78F578"/>
<rect x="243" y="120" width="16" height="8" fill="#B4F8A8"/>
<rect x="6" y="128" width="8" height="9" fill="#B4F8A8"/>
<rect x="65" y="128" width="9" height="9" fill="#B4F8A8"/>
<rect x="74" y="128" width="8" height="9" fill="#78F578"/>
<rect x="91" y="128" width="17" height="9" fill="#B4F8A8"/>
<rect x="108" y="128" width="8" height="9" fill="#EED9B5"/>
<rect x="133" y="128" width="8" height="9" fill="#78F578"/>
<rect x="141" y="128" width="9" height="9" fill="#78B4FA"/>
<rect x="150" y="128" width="17" height="9" fill="#78F578"/>
<rect x="167" y="128" width="8" height="9" fill="#EED9B5"/>
<rect x="175" y="128" width="9" height="9" fill="#78F578"/>
<rect x="184" y="128" width="17" height="9" fill="#B4F0FA"/>
<rect x="201" y="128" width="34" height="9" fill="#78F578"/>
<rect x="235" y="128" width="24" height="9" fill="#B4F8A8"/>
<rect x="31" y="137" width="9" height="8" fill="#B4F8A8"/>
<rect x="40" y="137" width="8" height="8" fill="#EED9B5"/>
<rect x="116" y="137" width="8" height="8" fill="#B4F8A8"/>
<rect x="124" y="137" width="9" height="8" fill="#EED9B5"/>
<rect x="141" y="137" width="9" height="8" fill="#EED9B5"/>
<rect x="150" y="137" width="8" height="8" fill="#B4F0FA"/>
<rect x="158" y="137" width="9" height="8" fill="#78B4FA"/>
<rect x="167" y="137" width="17" height="8" fill="#B4F8A8"/>
<rect x="184" y="137" width="8" height="8" fill="#78F578"/>
<rect x="192" y="137" width="9" height="8" fill="#B4F8A8"/>
<rect x="201" y="137" width="8" height="8" fill="#78F578"/>
<rect x="209" y="137" width="9" height="8" fill="#B4F0FA"/>
<rect x="218" y="137" width="8" height="8" fill="#78F578"/>
<rect x="251" y="137" width="8" height="8" fill="#EED9B5"/>
<rect x="31" y="145" width="17" height="8" fill="#B4F8A8"/>
<rect x="99" y="145" width="9" height="8" fill="#EED9B5"/>
<rect x="141" y="145" width="9" height="8" fill="#EED9B5"/>
<rect x="150" y="145" width="17" height="8" fill="#B4F8A8"/>
<rect x="167" y="145" width="8" height="8" fill="#78F578"/>
<rect x="192" y="145" width="17" height="8" fill="#B4F8A8"/>
<rect x="209" y="145" width="9" height="8" fill="#78F578"/>
<rect x="6" y="153" width="8" height="9" fill="#B4F8A8"/>
<rect x="31" y="153" width="17" height="9" fill="#EED9B5"/>
<rect x="74" y="153" width="25" height="9" fill="#B4F8A8"/>
<rect x="99" y="153" width="9" height="9" fill="#78F578"/>
<rect x="108" y="153" width="8" height="9" fill="#B4F0FA"/>
<rect x="116" y="153" width="17" height="9" fill="#78F578"/>
<rect x="141" y="153" width="9" height="9" fill="#B4F8A8"/>
<rect x="184" y="153" width="8" height="9" fill="#B4F8A8"/>
<rect x="201" y="153" width="17" height="9" fill="#EED9B5"/>
<rect x="6" y="162" width="17" height="8" fill="#B4F8A8"/>
<rect x="124" y="162" width="9" height="8" fill="#B4F8A8"/>
<rect x="133" y="162" width="8" height="8" fill="#EED9B5"/>
<rect x="150" y="162" width="25" height="8" fill="#EED9B5"/>
<rect x="175" y="162" width="17" height="8" fill="#B4F8A8"/>
<rect x="192" y="162" width="17" height="8" fill="#EED9B5"/>
<rect x="226" y="162" width="17" height="8" fill="#EED9B5"/>
<rect x="6" y="170" width="51" height="9" fill="#EED9B5"/>
<rect x="141" y="170" width="110" height="9" fill="#EED9B5"/>
<rect x="133" y="179" width="25" height="8" fill="#EED9B5"/>
<rect x="218" y="179" width="25" height="8" fill="#EED9B5"/>
<rect x="1" y="196" width="5" height="8" fill="#EED9B5"/>
<rect x="1" y="204" width="5" height="8" fill="#EED9B5"/>
<rect x="1" y="212" width="5" height="9" fill="#EED9B5"/>
<rect x="124" y="212" width="9" height="9" fill="#EED9B5"/>
<rect x="141" y="212" width="17" height="9" fill="#EED9B5"/>
<rect x="201" y="221" width="8" height="8" fill="#EED9B5"/>
<rect x="6" y="238" width="17" height="8" fill="#EED9B5"/>
<rect x="48" y="238" width="26" height="8" fill="#EED9B5"/>
<rect x="1" y="246" width="30" height="9" fill="#EED9B5"/>
<rect x="1" y="255" width="30" height="8" fill="#EED9B5"/>
<rect x="1" y="263" width="22" height="5" fill="#EED9B5"/>
</g>
<g fill="none" stroke="#5a5a5a" stroke-width="1" stroke-linejoin="round" shape-rendering="crispEdges"><path d="M58.8,107.1 L60.1,104.1 L64.8,102.4 L70.2,101.5 L76.2,100.9 L81.5,100.4 L86.9,101.5 L91.6,103.3 L95.6,105.1 L97.6,108.2 L102.3,107.1 L107.0,108.4 L111.7,109.1 L115.7,108.4 L117.0,104.4 L119.7,102.4 L125.0,101.1 L131.7,102.8 L137.1,104.1 L142.4,102.4 L145.4,101.5 L149.4,103.7 L154.7,105.7 L160.1,106.4 L165.4,110.4 L170.8,111.1 L174.8,109.5 L178.8,111.1 L179.5,115.8 L182.8,121.1 L186.9,122.5 L191.5,121.5 L197.6,121.1 L201.6,121.1 L204.3,122.5 L200.9,123.8 L196.2,125.8 L190.9,125.2 L187.9,125.8 L187.5,128.5 L190.9,129.2 L194.9,129.8 L198.9,131.2 L204.3,131.8 L211.0,132.5 L216.3,133.2 L220.3,136.5 L225.7,140.5 L232.4,145.9 L229.7,149.9 L227.7,153.9 L223.0,153.9 L221.7,158.0 L219.0,161.3 L217.6,158.0 L215.0,153.9 L209.6,152.6 L201.6,151.3 L193.5,152.3 L186.9,151.9 L180.2,151.0 L175.5,151.9 L172.8,153.9 L170.8,158.0 L160.2,158.5 L156.9,157.6 L156.0,153.5 L153.6,151.9 L148.6,153.5 L143.7,154.3 L140.4,155.2 L138.7,158.5 L138.7,164.2 L135.4,168.4 L132.1,173.3 L128.8,178.3 L127.2,179.6 L125.5,177.4 L122.2,175.0 L118.9,172.5 L118.9,168.4 L117.3,165.1 L115.6,161.8 L112.3,160.1 L109.0,159.3 L102.4,159.8 L95.8,160.1 L87.6,160.1 L81.0,160.9 L76.0,160.1 L67.8,158.5 L59.5,157.6 L52.9,158.5 L49.6,161.8 L47.1,164.7 L44.7,165.1 L43.0,161.8 L38.9,159.3 L34.8,156.8 L31.5,155.2 L25.7,153.5 L24.9,150.2 L26.5,145.3 L31.5,143.9 L36.4,144.4 L38.0,144.3 L47.4,145.9 L49.6,147.2 L55.4,147.9 L60.8,148.6 L67.5,149.9 L75.5,149.2 L84.9,149.9 L92.2,148.6 L95.6,146.6 L96.9,143.9 L94.3,141.2 L88.9,138.5 L83.5,133.9 L80.9,129.8 L84.2,128.5 L82.2,126.5 L82.9,122.5 L84.2,117.8 L80.2,115.1 L75.5,112.7 L70.2,110.8 L64.8,111.1 L60.1,110.0Z"/><path d="M115.7,108.4 L117.7,111.8 L118.4,115.8 L116.3,121.1 L120.4,125.2 L118.4,128.5 L111.7,133.9 L115.7,135.9 L117.7,140.5 L115.7,144.6 L107.6,145.2 L111.7,149.9 L116.3,155.3 L117.0,159.3 L115.6,161.8"/><path d="M75.5,96.6 L78.2,95.6 L82.2,95.8 L86.9,97.4 L83.5,98.2 L78.2,97.7Z"/><path d="M65.1,134.1 L68.8,133.5 L74.2,135.9 L79.5,137.9 L81.1,141.2 L76.9,141.9 L70.2,139.5 L65.5,137.2Z"/><path d="M0.8,75.2 L4.9,75.2 L9.9,75.2 L12.4,77.3 L15.3,77.7 L16.5,79.4 L19.0,82.3 L21.4,84.7 L23.5,86.8 L25.6,87.2 L27.2,88.4 L29.7,88.9 L33.0,88.0 L34.6,88.9 L35.9,91.3 L34.6,92.6 L33.0,94.2 L32.6,96.3 L28.9,95.9 L24.7,96.5 L20.6,97.1 L16.5,96.7 L12.4,97.5 L9.9,98.8 L7.4,100.8 L4.9,101.6 L2.5,102.5 L0.8,102.5"/><path d="M53.5,11.2 L55.6,10.4 L58.4,10.9"/><path d="M69.1,16.6 L70.5,15.2 L73.3,15.9 L74.8,17.3 L78.3,17.7 L81.1,18.7 L83.3,19.4 L82.6,21.1 L80.4,20.9 L77.6,19.2 L74.8,19.4 L71.9,19.2 L69.8,19.4 L68.8,18.0Z"/><path d="M91.8,42.8 L93.2,41.4"/><path d="M120.1,53.5 L120.6,55.6"/><path d="M71.9,47.5 L74.0,46.4 L76.9,47.1 L77.6,48.5 L75.5,49.9 L72.6,49.9 L71.9,48.5Z"/><path d="M50.6,63.4 L52.1,60.6 L54.9,59.2 L57.7,57.7 L60.6,57.5 L63.4,59.2 L66.2,58.4 L69.1,56.3 L71.2,54.2 L72.6,53.5 L74.0,54.2 L73.3,57.0 L72.6,60.6 L70.5,63.4 L67.7,65.5 L64.8,66.2 L62.0,67.0 L57.7,67.4 L53.5,67.4 L51.4,66.2Z"/><path d="M51.0,162.6 L53.5,162.2 L54.0,163.6 L51.5,163.9Z"/><path d="M244.4,163.5 L246.0,162.6 L248.4,162.9 L247.5,164.4 L245.2,164.4Z"/><path d="M123.0,179.5 L125.0,179.5 L125.0,181.3 L123.0,181.3Z"/><path d="M218.0,159.6 L220.5,158.9 L223.0,160.3 L220.5,161.6Z"/><path d="M10.2,1.2 L12.3,2.4"/><path d="M28.7,2.7 L30.8,4.1 L33.6,6.4 L37.9,7.4 L43.6,7.0 L46.7,6.7 L45.7,9.5 L45.0,13.1 L43.6,15.2 L41.4,16.9 L38.6,18.7 L35.8,20.9 L33.3,23.0 L31.5,25.1 L29.8,27.2" stroke-width="1.8"/><path d="M30.8,6.7 L29.4,8.8 L28.0,10.9 L27.2,12.6" stroke-width="1.8"/><path d="M96.0,39.3 L97.5,36.5 L98.9,38.6 L101.7,38.6 L106.0,35.0 L107.4,32.9 L110.2,32.9 L113.1,35.8 L117.3,37.9 L121.6,39.3 L125.1,41.4 L126.5,42.8 L125.8,45.0 L125.1,47.1 L123.7,49.2" stroke-width="1.8"/><path d="M134.2,54.8 L135.6,52.0 L137.8,47.6" stroke-width="1.8"/><rect x="5" y="152.5" width="1.5" height="1.5" fill="#5a5a5a" stroke="none"/></g>
<rect x="0.5" y="0.5" width="259" height="268" fill="none" stroke="#000" stroke-width="1" shape-rendering="crispEdges"/>
</svg>
<svg class="pn" style="left:288px;top:328px" width="260" height="269" viewBox="0 0 260 269">
<g shape-rendering="crispEdges">
<rect x="1" y="1" width="22" height="9" fill="#B4F0FA"/>
<rect x="23" y="1" width="8" height="9" fill="#78B4FA"/>
<rect x="31" y="1" width="26" height="9" fill="#B4F0FA"/>
<rect x="57" y="1" width="8" height="9" fill="#78B4FA"/>
<rect x="65" y="1" width="34" height="9" fill="#3C96F5"/>
<rect x="99" y="1" width="25" height="9" fill="#1E64E6"/>
<rect x="124" y="1" width="17" height="9" fill="#3C96F5"/>
<rect x="141" y="1" width="17" height="9" fill="#1E64E6"/>
<rect x="158" y="1" width="51" height="9" fill="#FFE678"/>
<rect x="209" y="1" width="9" height="9" fill="#3C96F5"/>
<rect x="218" y="1" width="25" height="9" fill="#78B4FA"/>
<rect x="243" y="1" width="16" height="9" fill="#3C96F5"/>
<rect x="1" y="10" width="22" height="8" fill="#B4F0FA"/>
<rect x="23" y="10" width="17" height="8" fill="#78B4FA"/>
<rect x="40" y="10" width="8" height="8" fill="#B4F0FA"/>
<rect x="48" y="10" width="26" height="8" fill="#78B4FA"/>
<rect x="74" y="10" width="84" height="8" fill="#3C96F5"/>
<rect x="158" y="10" width="9" height="8" fill="#1E64E6"/>
<rect x="167" y="10" width="51" height="8" fill="#FFE678"/>
<rect x="218" y="10" width="8" height="8" fill="#1E64E6"/>
<rect x="226" y="10" width="33" height="8" fill="#3C96F5"/>
<rect x="1" y="18" width="13" height="9" fill="#B4F0FA"/>
<rect x="14" y="18" width="17" height="9" fill="#78B4FA"/>
<rect x="31" y="18" width="9" height="9" fill="#3C96F5"/>
<rect x="40" y="18" width="76" height="9" fill="#78B4FA"/>
<rect x="116" y="18" width="17" height="9" fill="#3C96F5"/>
<rect x="133" y="18" width="17" height="9" fill="#78B4FA"/>
<rect x="150" y="18" width="8" height="9" fill="#3C96F5"/>
<rect x="158" y="18" width="9" height="9" fill="#1E64E6"/>
<rect x="167" y="18" width="17" height="9" fill="#FFE678"/>
<rect x="184" y="18" width="8" height="9" fill="#FFA000"/>
<rect x="192" y="18" width="17" height="9" fill="#FFE678"/>
<rect x="209" y="18" width="26" height="9" fill="#1E64E6"/>
<rect x="235" y="18" width="24" height="9" fill="#3C96F5"/>
<rect x="1" y="27" width="13" height="8" fill="#78B4FA"/>
<rect x="14" y="27" width="9" height="8" fill="#B4F0FA"/>
<rect x="23" y="27" width="8" height="8" fill="#78B4FA"/>
<rect x="31" y="27" width="51" height="8" fill="#3C96F5"/>
<rect x="82" y="27" width="9" height="8" fill="#78B4FA"/>
<rect x="91" y="27" width="25" height="8" fill="#B4F0FA"/>
<rect x="116" y="27" width="8" height="8" fill="#78B4FA"/>
<rect x="124" y="27" width="9" height="8" fill="#B4F0FA"/>
<rect x="133" y="27" width="17" height="8" fill="#78B4FA"/>
<rect x="150" y="27" width="8" height="8" fill="#3C96F5"/>
<rect x="158" y="27" width="9" height="8" fill="#1E64E6"/>
<rect x="167" y="27" width="17" height="8" fill="#FFE678"/>
<rect x="184" y="27" width="8" height="8" fill="#FFA000"/>
<rect x="192" y="27" width="17" height="8" fill="#FFE678"/>
<rect x="209" y="27" width="9" height="8" fill="#1E64E6"/>
<rect x="218" y="27" width="33" height="8" fill="#3C96F5"/>
<rect x="251" y="27" width="8" height="8" fill="#78B4FA"/>
<rect x="1" y="35" width="5" height="9" fill="#78B4FA"/>
<rect x="6" y="35" width="17" height="9" fill="#B4F0FA"/>
<rect x="23" y="35" width="8" height="9" fill="#78B4FA"/>
<rect x="31" y="35" width="26" height="9" fill="#3C96F5"/>
<rect x="57" y="35" width="8" height="9" fill="#78B4FA"/>
<rect x="65" y="35" width="9" height="9" fill="#3C96F5"/>
<rect x="74" y="35" width="8" height="9" fill="#78B4FA"/>
<rect x="82" y="35" width="9" height="9" fill="#B4F0FA"/>
<rect x="91" y="35" width="8" height="9" fill="#78F578"/>
<rect x="99" y="35" width="42" height="9" fill="#B4F0FA"/>
<rect x="141" y="35" width="9" height="9" fill="#78B4FA"/>
<rect x="150" y="35" width="8" height="9" fill="#3C96F5"/>
<rect x="158" y="35" width="9" height="9" fill="#1E64E6"/>
<rect x="167" y="35" width="25" height="9" fill="#FFE678"/>
<rect x="192" y="35" width="26" height="9" fill="#1E64E6"/>
<rect x="218" y="35" width="8" height="9" fill="#3C96F5"/>
<rect x="226" y="35" width="25" height="9" fill="#78B4FA"/>
<rect x="251" y="35" width="8" height="9" fill="#B4F0FA"/>
<rect x="1" y="44" width="5" height="8" fill="#B4F0FA"/>
<rect x="6" y="44" width="8" height="8" fill="#78F578"/>
<rect x="14" y="44" width="9" height="8" fill="#B4F0FA"/>
<rect x="23" y="44" width="51" height="8" fill="#78B4FA"/>
<rect x="74" y="44" width="17" height="8" fill="#B4F0FA"/>
<rect x="91" y="44" width="17" height="8" fill="#78F578"/>
<rect x="108" y="44" width="33" height="8" fill="#B4F0FA"/>
<rect x="141" y="44" width="9" height="8" fill="#78B4FA"/>
<rect x="150" y="44" width="17" height="8" fill="#3C96F5"/>
<rect x="167" y="44" width="17" height="8" fill="#1E64E6"/>
<rect x="184" y="44" width="34" height="8" fill="#3C96F5"/>
<rect x="218" y="44" width="25" height="8" fill="#78B4FA"/>
<rect x="243" y="44" width="16" height="8" fill="#B4F0FA"/>
<rect x="1" y="52" width="13" height="9" fill="#B4F0FA"/>
<rect x="14" y="52" width="34" height="9" fill="#78B4FA"/>
<rect x="48" y="52" width="9" height="9" fill="#B4F0FA"/>
<rect x="57" y="52" width="17" height="9" fill="#78B4FA"/>
<rect x="74" y="52" width="17" height="9" fill="#B4F0FA"/>
<rect x="91" y="52" width="25" height="9" fill="#78F578"/>
<rect x="116" y="52" width="34" height="9" fill="#B4F0FA"/>
<rect x="150" y="52" width="101" height="9" fill="#78B4FA"/>
<rect x="251" y="52" width="8" height="9" fill="#B4F0FA"/>
<rect x="1" y="61" width="13" height="8" fill="#B4F0FA"/>
<rect x="14" y="61" width="51" height="8" fill="#78B4FA"/>
<rect x="65" y="61" width="9" height="8" fill="#B4F0FA"/>
<rect x="74" y="61" width="8" height="8" fill="#78B4FA"/>
<rect x="82" y="61" width="26" height="8" fill="#B4F0FA"/>
<rect x="108" y="61" width="8" height="8" fill="#78F578"/>
<rect x="116" y="61" width="42" height="8" fill="#B4F0FA"/>
<rect x="158" y="61" width="60" height="8" fill="#78B4FA"/>
<rect x="218" y="61" width="17" height="8" fill="#B4F0FA"/>
<rect x="235" y="61" width="16" height="8" fill="#78B4FA"/>
<rect x="251" y="61" width="8" height="8" fill="#B4F0FA"/>
<rect x="1" y="69" width="13" height="8" fill="#EED9B5"/>
<rect x="14" y="69" width="9" height="8" fill="#B4F0FA"/>
<rect x="23" y="69" width="17" height="8" fill="#78B4FA"/>
<rect x="40" y="69" width="8" height="8" fill="#3C96F5"/>
<rect x="48" y="69" width="34" height="8" fill="#78B4FA"/>
<rect x="82" y="69" width="34" height="8" fill="#B4F0FA"/>
<rect x="116" y="69" width="25" height="8" fill="#78F578"/>
<rect x="141" y="69" width="26" height="8" fill="#B4F0FA"/>
<rect x="167" y="69" width="51" height="8" fill="#78B4FA"/>
<rect x="218" y="69" width="8" height="8" fill="#B4F0FA"/>
<rect x="226" y="69" width="9" height="8" fill="#78B4FA"/>
<rect x="235" y="69" width="16" height="8" fill="#3C96F5"/>
<rect x="251" y="69" width="8" height="8" fill="#78B4FA"/>
<rect x="1" y="77" width="13" height="9" fill="#78F578"/>
<rect x="14" y="77" width="9" height="9" fill="#3C96F5"/>
<rect x="23" y="77" width="17" height="9" fill="#78B4FA"/>
<rect x="40" y="77" width="34" height="9" fill="#B4F0FA"/>
<rect x="74" y="77" width="34" height="9" fill="#78F578"/>
<rect x="108" y="77" width="33" height="9" fill="#B4F8A8"/>
<rect x="141" y="77" width="17" height="9" fill="#78F578"/>
<rect x="158" y="77" width="17" height="9" fill="#B4F0FA"/>
<rect x="175" y="77" width="51" height="9" fill="#78B4FA"/>
<rect x="226" y="77" width="17" height="9" fill="#3C96F5"/>
<rect x="243" y="77" width="8" height="9" fill="#78B4FA"/>
<rect x="251" y="77" width="8" height="9" fill="#B4F0FA"/>
<rect x="1" y="86" width="5" height="8" fill="#B4F0FA"/>
<rect x="6" y="86" width="8" height="8" fill="#3C96F5"/>
<rect x="14" y="86" width="9" height="8" fill="#B4F0FA"/>
<rect x="23" y="86" width="8" height="8" fill="#78F578"/>
<rect x="31" y="86" width="9" height="8" fill="#EED9B5"/>
<rect x="57" y="86" width="17" height="8" fill="#B4F8A8"/>
<rect x="91" y="86" width="17" height="8" fill="#EED9B5"/>
<rect x="108" y="86" width="8" height="8" fill="#B4F8A8"/>
<rect x="116" y="86" width="17" height="8" fill="#EED9B5"/>
<rect x="133" y="86" width="17" height="8" fill="#B4F8A8"/>
<rect x="150" y="86" width="8" height="8" fill="#78F578"/>
<rect x="158" y="86" width="9" height="8" fill="#B4F0FA"/>
<rect x="167" y="86" width="25" height="8" fill="#78B4FA"/>
<rect x="192" y="86" width="17" height="8" fill="#B4F0FA"/>
<rect x="209" y="86" width="9" height="8" fill="#78B4FA"/>
<rect x="218" y="86" width="17" height="8" fill="#3C96F5"/>
<rect x="235" y="86" width="8" height="8" fill="#78B4FA"/>
<rect x="243" y="86" width="16" height="8" fill="#B4F0FA"/>
<rect x="14" y="94" width="26" height="9" fill="#B4F8A8"/>
<rect x="57" y="94" width="17" height="9" fill="#EED9B5"/>
<rect x="82" y="94" width="9" height="9" fill="#EED9B5"/>
<rect x="108" y="94" width="16" height="9" fill="#EED9B5"/>
<rect x="124" y="94" width="17" height="9" fill="#78F578"/>
<rect x="141" y="94" width="26" height="9" fill="#B4F8A8"/>
<rect x="167" y="94" width="8" height="9" fill="#78F578"/>
<rect x="175" y="94" width="34" height="9" fill="#B4F0FA"/>
<rect x="209" y="94" width="9" height="9" fill="#78B4FA"/>
<rect x="218" y="94" width="8" height="9" fill="#3C96F5"/>
<rect x="226" y="94" width="17" height="9" fill="#78B4FA"/>
<rect x="243" y="94" width="16" height="9" fill="#B4F0FA"/>
<rect x="6" y="103" width="8" height="8" fill="#B4F8A8"/>
<rect x="65" y="103" width="9" height="8" fill="#78B4FA"/>
<rect x="74" y="103" width="8" height="8" fill="#78F578"/>
<rect x="82" y="103" width="17" height="8" fill="#B4F8A8"/>
<rect x="116" y="103" width="25" height="8" fill="#B4F8A8"/>
<rect x="141" y="103" width="68" height="8" fill="#B4F0FA"/>
<rect x="209" y="103" width="9" height="8" fill="#78B4FA"/>
<rect x="218" y="103" width="8" height="8" fill="#3C96F5"/>
<rect x="226" y="103" width="9" height="8" fill="#78B4FA"/>
<rect x="235" y="103" width="8" height="8" fill="#3C96F5"/>
<rect x="243" y="103" width="8" height="8" fill="#78B4FA"/>
<rect x="251" y="103" width="8" height="8" fill="#B4F0FA"/>
<rect x="82" y="111" width="9" height="9" fill="#B4F8A8"/>
<rect x="91" y="111" width="8" height="9" fill="#EED9B5"/>
<rect x="99" y="111" width="17" height="9" fill="#B4F8A8"/>
<rect x="116" y="111" width="25" height="9" fill="#EED9B5"/>
<rect x="150" y="111" width="8" height="9" fill="#EED9B5"/>
<rect x="158" y="111" width="9" height="9" fill="#78B4FA"/>
<rect x="167" y="111" width="8" height="9" fill="#3C96F5"/>
<rect x="175" y="111" width="51" height="9" fill="#78B4FA"/>
<rect x="226" y="111" width="9" height="9" fill="#B4F0FA"/>
<rect x="235" y="111" width="8" height="9" fill="#78B4FA"/>
<rect x="243" y="111" width="8" height="9" fill="#78F578"/>
<rect x="251" y="111" width="8" height="9" fill="#B4F8A8"/>
<rect x="31" y="120" width="26" height="8" fill="#EED9B5"/>
<rect x="57" y="120" width="8" height="8" fill="#B4F8A8"/>
<rect x="99" y="120" width="17" height="8" fill="#EED9B5"/>
<rect x="116" y="120" width="8" height="8" fill="#78F578"/>
<rect x="124" y="120" width="26" height="8" fill="#B4F8A8"/>
<rect x="150" y="120" width="17" height="8" fill="#EED9B5"/>
<rect x="167" y="120" width="8" height="8" fill="#B4F0FA"/>
<rect x="175" y="120" width="9" height="8" fill="#3C96F5"/>
<rect x="184" y="120" width="34" height="8" fill="#B4F0FA"/>
<rect x="218" y="120" width="17" height="8" fill="#78B4FA"/>
<rect x="235" y="120" width="16" height="8" fill="#B4F0FA"/>
<rect x="251" y="120" width="8" height="8" fill="#B4F8A8"/>
<rect x="23" y="128" width="8" height="9" fill="#EED9B5"/>
<rect x="31" y="128" width="9" height="9" fill="#B4F8A8"/>
<rect x="65" y="128" width="9" height="9" fill="#B4F8A8"/>
<rect x="91" y="128" width="25" height="9" fill="#B4F8A8"/>
<rect x="133" y="128" width="8" height="9" fill="#EED9B5"/>
<rect x="141" y="128" width="9" height="9" fill="#78B4FA"/>
<rect x="150" y="128" width="8" height="9" fill="#78F578"/>
<rect x="158" y="128" width="9" height="9" fill="#78B4FA"/>
<rect x="167" y="128" width="8" height="9" fill="#EED9B5"/>
<rect x="175" y="128" width="9" height="9" fill="#B4F0FA"/>
<rect x="184" y="128" width="17" height="9" fill="#78B4FA"/>
<rect x="201" y="128" width="8" height="9" fill="#B4F8A8"/>
<rect x="209" y="128" width="17" height="9" fill="#B4F0FA"/>
<rect x="226" y="128" width="25" height="9" fill="#78F578"/>
<rect x="251" y="128" width="8" height="9" fill="#B4F8A8"/>
<rect x="23" y="137" width="17" height="8" fill="#B4F8A8"/>
<rect x="65" y="137" width="9" height="8" fill="#EED9B5"/>
<rect x="116" y="137" width="17" height="8" fill="#B4F8A8"/>
<rect x="150" y="137" width="8" height="8" fill="#B4F0FA"/>
<rect x="158" y="137" width="9" height="8" fill="#1E64E6"/>
<rect x="167" y="137" width="25" height="8" fill="#78F578"/>
<rect x="192" y="137" width="17" height="8" fill="#B4F8A8"/>
<rect x="209" y="137" width="17" height="8" fill="#B4F0FA"/>
<rect x="226" y="137" width="9" height="8" fill="#78F578"/>
<rect x="235" y="137" width="8" height="8" fill="#B4F8A8"/>
<rect x="243" y="137" width="8" height="8" fill="#78F578"/>
<rect x="251" y="137" width="8" height="8" fill="#B4F8A8"/>
<rect x="31" y="145" width="9" height="8" fill="#B4F8A8"/>
<rect x="40" y="145" width="17" height="8" fill="#78F578"/>
<rect x="57" y="145" width="17" height="8" fill="#B4F8A8"/>
<rect x="141" y="145" width="17" height="8" fill="#B4F8A8"/>
<rect x="158" y="145" width="9" height="8" fill="#78F578"/>
<rect x="167" y="145" width="8" height="8" fill="#B4F0FA"/>
<rect x="175" y="145" width="9" height="8" fill="#EED9B5"/>
<rect x="184" y="145" width="8" height="8" fill="#B4F8A8"/>
<rect x="192" y="145" width="26" height="8" fill="#EED9B5"/>
<rect x="218" y="145" width="17" height="8" fill="#B4F8A8"/>
<rect x="235" y="145" width="8" height="8" fill="#EED9B5"/>
<rect x="243" y="145" width="16" height="8" fill="#78F578"/>
<rect x="31" y="153" width="9" height="9" fill="#B4F8A8"/>
<rect x="40" y="153" width="8" height="9" fill="#78F578"/>
<rect x="48" y="153" width="9" height="9" fill="#EED9B5"/>
<rect x="57" y="153" width="8" height="9" fill="#B4F8A8"/>
<rect x="82" y="153" width="9" height="9" fill="#B4F8A8"/>
<rect x="91" y="153" width="8" height="9" fill="#EED9B5"/>
<rect x="99" y="153" width="25" height="9" fill="#78F578"/>
<rect x="124" y="153" width="9" height="9" fill="#3C96F5"/>
<rect x="133" y="153" width="8" height="9" fill="#78F578"/>
<rect x="150" y="153" width="34" height="9" fill="#EED9B5"/>
<rect x="184" y="153" width="8" height="9" fill="#78F578"/>
<rect x="192" y="153" width="9" height="9" fill="#B4F8A8"/>
<rect x="201" y="153" width="25" height="9" fill="#EED9B5"/>
<rect x="226" y="153" width="9" height="9" fill="#B4F8A8"/>
<rect x="243" y="153" width="8" height="9" fill="#B4F8A8"/>
<rect x="251" y="153" width="8" height="9" fill="#78F578"/>
<rect x="57" y="162" width="8" height="8" fill="#EED9B5"/>
<rect x="124" y="162" width="9" height="8" fill="#B4F8A8"/>
<rect x="133" y="162" width="8" height="8" fill="#78F578"/>
<rect x="150" y="162" width="59" height="8" fill="#B4F8A8"/>
<rect x="209" y="162" width="17" height="8" fill="#EED9B5"/>
<rect x="226" y="162" width="17" height="8" fill="#B4F8A8"/>
<rect x="243" y="162" width="16" height="8" fill="#78F578"/>
<rect x="6" y="170" width="76" height="9" fill="#EED9B5"/>
<rect x="141" y="170" width="34" height="9" fill="#EED9B5"/>
<rect x="175" y="170" width="17" height="9" fill="#B4F8A8"/>
<rect x="192" y="170" width="9" height="9" fill="#EED9B5"/>
<rect x="201" y="170" width="50" height="9" fill="#B4F8A8"/>
<rect x="251" y="170" width="8" height="9" fill="#78F578"/>
<rect x="31" y="179" width="9" height="8" fill="#EED9B5"/>
<rect x="82" y="179" width="17" height="8" fill="#EED9B5"/>
<rect x="108" y="179" width="8" height="8" fill="#EED9B5"/>
<rect x="133" y="179" width="93" height="8" fill="#EED9B5"/>
<rect x="226" y="179" width="33" height="8" fill="#B4F8A8"/>
<rect x="108" y="187" width="50" height="9" fill="#EED9B5"/>
<rect x="167" y="187" width="51" height="9" fill="#EED9B5"/>
<rect x="218" y="187" width="41" height="9" fill="#B4F8A8"/>
<rect x="1" y="196" width="5" height="8" fill="#EED9B5"/>
<rect x="167" y="196" width="92" height="8" fill="#EED9B5"/>
<rect x="1" y="204" width="56" height="8" fill="#EED9B5"/>
<rect x="184" y="204" width="75" height="8" fill="#EED9B5"/>
<rect x="1" y="212" width="64" height="9" fill="#EED9B5"/>
<rect x="192" y="212" width="9" height="9" fill="#EED9B5"/>
<rect x="218" y="212" width="41" height="9" fill="#EED9B5"/>
<rect x="6" y="221" width="68" height="8" fill="#EED9B5"/>
<rect x="243" y="221" width="16" height="8" fill="#EED9B5"/>
<rect x="1" y="229" width="47" height="9" fill="#EED9B5"/>
<rect x="124" y="229" width="17" height="9" fill="#EED9B5"/>
<rect x="209" y="229" width="50" height="9" fill="#EED9B5"/>
<rect x="1" y="238" width="39" height="8" fill="#EED9B5"/>
<rect x="91" y="238" width="59" height="8" fill="#EED9B5"/>
<rect x="158" y="238" width="43" height="8" fill="#EED9B5"/>
<rect x="235" y="238" width="8" height="8" fill="#EED9B5"/>
<rect x="251" y="238" width="8" height="8" fill="#EED9B5"/>
<rect x="1" y="246" width="30" height="9" fill="#EED9B5"/>
<rect x="91" y="246" width="84" height="9" fill="#EED9B5"/>
<rect x="209" y="246" width="50" height="9" fill="#EED9B5"/>
<rect x="1" y="255" width="13" height="8" fill="#EED9B5"/>
<rect x="116" y="255" width="143" height="8" fill="#EED9B5"/>
<rect x="1" y="263" width="5" height="5" fill="#EED9B5"/>
<rect x="133" y="263" width="42" height="5" fill="#EED9B5"/>
<rect x="184" y="263" width="75" height="5" fill="#EED9B5"/>
</g>
<g fill="none" stroke="#5a5a5a" stroke-width="1" stroke-linejoin="round" shape-rendering="crispEdges"><path d="M58.8,107.1 L60.1,104.1 L64.8,102.4 L70.2,101.5 L76.2,100.9 L81.5,100.4 L86.9,101.5 L91.6,103.3 L95.6,105.1 L97.6,108.2 L102.3,107.1 L107.0,108.4 L111.7,109.1 L115.7,108.4 L117.0,104.4 L119.7,102.4 L125.0,101.1 L131.7,102.8 L137.1,104.1 L142.4,102.4 L145.4,101.5 L149.4,103.7 L154.7,105.7 L160.1,106.4 L165.4,110.4 L170.8,111.1 L174.8,109.5 L178.8,111.1 L179.5,115.8 L182.8,121.1 L186.9,122.5 L191.5,121.5 L197.6,121.1 L201.6,121.1 L204.3,122.5 L200.9,123.8 L196.2,125.8 L190.9,125.2 L187.9,125.8 L187.5,128.5 L190.9,129.2 L194.9,129.8 L198.9,131.2 L204.3,131.8 L211.0,132.5 L216.3,133.2 L220.3,136.5 L225.7,140.5 L232.4,145.9 L229.7,149.9 L227.7,153.9 L223.0,153.9 L221.7,158.0 L219.0,161.3 L217.6,158.0 L215.0,153.9 L209.6,152.6 L201.6,151.3 L193.5,152.3 L186.9,151.9 L180.2,151.0 L175.5,151.9 L172.8,153.9 L170.8,158.0 L160.2,158.5 L156.9,157.6 L156.0,153.5 L153.6,151.9 L148.6,153.5 L143.7,154.3 L140.4,155.2 L138.7,158.5 L138.7,164.2 L135.4,168.4 L132.1,173.3 L128.8,178.3 L127.2,179.6 L125.5,177.4 L122.2,175.0 L118.9,172.5 L118.9,168.4 L117.3,165.1 L115.6,161.8 L112.3,160.1 L109.0,159.3 L102.4,159.8 L95.8,160.1 L87.6,160.1 L81.0,160.9 L76.0,160.1 L67.8,158.5 L59.5,157.6 L52.9,158.5 L49.6,161.8 L47.1,164.7 L44.7,165.1 L43.0,161.8 L38.9,159.3 L34.8,156.8 L31.5,155.2 L25.7,153.5 L24.9,150.2 L26.5,145.3 L31.5,143.9 L36.4,144.4 L38.0,144.3 L47.4,145.9 L49.6,147.2 L55.4,147.9 L60.8,148.6 L67.5,149.9 L75.5,149.2 L84.9,149.9 L92.2,148.6 L95.6,146.6 L96.9,143.9 L94.3,141.2 L88.9,138.5 L83.5,133.9 L80.9,129.8 L84.2,128.5 L82.2,126.5 L82.9,122.5 L84.2,117.8 L80.2,115.1 L75.5,112.7 L70.2,110.8 L64.8,111.1 L60.1,110.0Z"/><path d="M115.7,108.4 L117.7,111.8 L118.4,115.8 L116.3,121.1 L120.4,125.2 L118.4,128.5 L111.7,133.9 L115.7,135.9 L117.7,140.5 L115.7,144.6 L107.6,145.2 L111.7,149.9 L116.3,155.3 L117.0,159.3 L115.6,161.8"/><path d="M75.5,96.6 L78.2,95.6 L82.2,95.8 L86.9,97.4 L83.5,98.2 L78.2,97.7Z"/><path d="M65.1,134.1 L68.8,133.5 L74.2,135.9 L79.5,137.9 L81.1,141.2 L76.9,141.9 L70.2,139.5 L65.5,137.2Z"/><path d="M0.8,75.2 L4.9,75.2 L9.9,75.2 L12.4,77.3 L15.3,77.7 L16.5,79.4 L19.0,82.3 L21.4,84.7 L23.5,86.8 L25.6,87.2 L27.2,88.4 L29.7,88.9 L33.0,88.0 L34.6,88.9 L35.9,91.3 L34.6,92.6 L33.0,94.2 L32.6,96.3 L28.9,95.9 L24.7,96.5 L20.6,97.1 L16.5,96.7 L12.4,97.5 L9.9,98.8 L7.4,100.8 L4.9,101.6 L2.5,102.5 L0.8,102.5"/><path d="M53.5,11.2 L55.6,10.4 L58.4,10.9"/><path d="M69.1,16.6 L70.5,15.2 L73.3,15.9 L74.8,17.3 L78.3,17.7 L81.1,18.7 L83.3,19.4 L82.6,21.1 L80.4,20.9 L77.6,19.2 L74.8,19.4 L71.9,19.2 L69.8,19.4 L68.8,18.0Z"/><path d="M91.8,42.8 L93.2,41.4"/><path d="M120.1,53.5 L120.6,55.6"/><path d="M71.9,47.5 L74.0,46.4 L76.9,47.1 L77.6,48.5 L75.5,49.9 L72.6,49.9 L71.9,48.5Z"/><path d="M50.6,63.4 L52.1,60.6 L54.9,59.2 L57.7,57.7 L60.6,57.5 L63.4,59.2 L66.2,58.4 L69.1,56.3 L71.2,54.2 L72.6,53.5 L74.0,54.2 L73.3,57.0 L72.6,60.6 L70.5,63.4 L67.7,65.5 L64.8,66.2 L62.0,67.0 L57.7,67.4 L53.5,67.4 L51.4,66.2Z"/><path d="M51.0,162.6 L53.5,162.2 L54.0,163.6 L51.5,163.9Z"/><path d="M244.4,163.5 L246.0,162.6 L248.4,162.9 L247.5,164.4 L245.2,164.4Z"/><path d="M123.0,179.5 L125.0,179.5 L125.0,181.3 L123.0,181.3Z"/><path d="M218.0,159.6 L220.5,158.9 L223.0,160.3 L220.5,161.6Z"/><path d="M10.2,1.2 L12.3,2.4"/><path d="M28.7,2.7 L30.8,4.1 L33.6,6.4 L37.9,7.4 L43.6,7.0 L46.7,6.7 L45.7,9.5 L45.0,13.1 L43.6,15.2 L41.4,16.9 L38.6,18.7 L35.8,20.9 L33.3,23.0 L31.5,25.1 L29.8,27.2" stroke-width="1.8"/><path d="M30.8,6.7 L29.4,8.8 L28.0,10.9 L27.2,12.6" stroke-width="1.8"/><path d="M96.0,39.3 L97.5,36.5 L98.9,38.6 L101.7,38.6 L106.0,35.0 L107.4,32.9 L110.2,32.9 L113.1,35.8 L117.3,37.9 L121.6,39.3 L125.1,41.4 L126.5,42.8 L125.8,45.0 L125.1,47.1 L123.7,49.2" stroke-width="1.8"/><path d="M134.2,54.8 L135.6,52.0 L137.8,47.6" stroke-width="1.8"/><rect x="5" y="152.5" width="1.5" height="1.5" fill="#5a5a5a" stroke="none"/></g>
<rect x="0.5" y="0.5" width="259" height="268" fill="none" stroke="#000" stroke-width="1" shape-rendering="crispEdges"/>
</svg>
<svg class="pn" style="left:567px;top:328px" width="260" height="269" viewBox="0 0 260 269">
<g shape-rendering="crispEdges">
<rect x="1" y="1" width="47" height="9" fill="#B4F8A8"/>
<rect x="48" y="1" width="17" height="9" fill="#78F578"/>
<rect x="65" y="1" width="9" height="9" fill="#B4F8A8"/>
<rect x="74" y="1" width="8" height="9" fill="#78F578"/>
<rect x="82" y="1" width="34" height="9" fill="#B4F8A8"/>
<rect x="116" y="1" width="25" height="9" fill="#EED9B5"/>
<rect x="141" y="1" width="17" height="9" fill="#B4F8A8"/>
<rect x="158" y="1" width="9" height="9" fill="#78F578"/>
<rect x="167" y="1" width="8" height="9" fill="#B4F0FA"/>
<rect x="175" y="1" width="34" height="9" fill="#78B4FA"/>
<rect x="209" y="1" width="50" height="9" fill="#1E64E6"/>
<rect x="1" y="10" width="47" height="8" fill="#B4F8A8"/>
<rect x="48" y="10" width="9" height="8" fill="#78F578"/>
<rect x="57" y="10" width="8" height="8" fill="#B4F0FA"/>
<rect x="65" y="10" width="59" height="8" fill="#B4F8A8"/>
<rect x="124" y="10" width="17" height="8" fill="#EED9B5"/>
<rect x="141" y="10" width="17" height="8" fill="#B4F8A8"/>
<rect x="158" y="10" width="9" height="8" fill="#B4F0FA"/>
<rect x="167" y="10" width="34" height="8" fill="#78B4FA"/>
<rect x="201" y="10" width="17" height="8" fill="#3C96F5"/>
<rect x="218" y="10" width="41" height="8" fill="#1E64E6"/>
<rect x="1" y="18" width="47" height="9" fill="#B4F8A8"/>
<rect x="48" y="18" width="26" height="9" fill="#78F578"/>
<rect x="74" y="18" width="42" height="9" fill="#B4F8A8"/>
<rect x="116" y="18" width="17" height="9" fill="#EED9B5"/>
<rect x="133" y="18" width="8" height="9" fill="#B4F8A8"/>
<rect x="141" y="18" width="9" height="9" fill="#78F578"/>
<rect x="150" y="18" width="8" height="9" fill="#B4F0FA"/>
<rect x="158" y="18" width="17" height="9" fill="#78B4FA"/>
<rect x="175" y="18" width="17" height="9" fill="#B4F0FA"/>
<rect x="192" y="18" width="9" height="9" fill="#78B4FA"/>
<rect x="201" y="18" width="58" height="9" fill="#3C96F5"/>
<rect x="1" y="27" width="5" height="8" fill="#B4F8A8"/>
<rect x="6" y="27" width="17" height="8" fill="#78F578"/>
<rect x="23" y="27" width="17" height="8" fill="#B4F8A8"/>
<rect x="40" y="27" width="25" height="8" fill="#78F578"/>
<rect x="65" y="27" width="9" height="8" fill="#B4F8A8"/>
<rect x="74" y="27" width="8" height="8" fill="#EED9B5"/>
<rect x="108" y="27" width="33" height="8" fill="#EED9B5"/>
<rect x="141" y="27" width="9" height="8" fill="#78F578"/>
<rect x="150" y="27" width="25" height="8" fill="#B4F0FA"/>
<rect x="175" y="27" width="17" height="8" fill="#78F578"/>
<rect x="192" y="27" width="9" height="8" fill="#B4F0FA"/>
<rect x="201" y="27" width="8" height="8" fill="#78B4FA"/>
<rect x="209" y="27" width="9" height="8" fill="#3C96F5"/>
<rect x="218" y="27" width="25" height="8" fill="#78B4FA"/>
<rect x="243" y="27" width="8" height="8" fill="#3C96F5"/>
<rect x="251" y="27" width="8" height="8" fill="#78B4FA"/>
<rect x="1" y="35" width="13" height="9" fill="#78F578"/>
<rect x="14" y="35" width="9" height="9" fill="#B4F0FA"/>
<rect x="23" y="35" width="34" height="9" fill="#B4F8A8"/>
<rect x="57" y="35" width="17" height="9" fill="#EED9B5"/>
<rect x="133" y="35" width="8" height="9" fill="#EED9B5"/>
<rect x="141" y="35" width="9" height="9" fill="#B4F0FA"/>
<rect x="150" y="35" width="8" height="9" fill="#78B4FA"/>
<rect x="158" y="35" width="17" height="9" fill="#B4F0FA"/>
<rect x="175" y="35" width="9" height="9" fill="#78F578"/>
<rect x="184" y="35" width="17" height="9" fill="#B4F0FA"/>
<rect x="201" y="35" width="8" height="9" fill="#78B4FA"/>
<rect x="209" y="35" width="34" height="9" fill="#3C96F5"/>
<rect x="243" y="35" width="16" height="9" fill="#78B4FA"/>
<rect x="1" y="44" width="5" height="8" fill="#EED9B5"/>
<rect x="6" y="44" width="25" height="8" fill="#B4F8A8"/>
<rect x="31" y="44" width="9" height="8" fill="#EED9B5"/>
<rect x="40" y="44" width="8" height="8" fill="#B4F8A8"/>
<rect x="48" y="44" width="9" height="8" fill="#EED9B5"/>
<rect x="141" y="44" width="60" height="8" fill="#B4F0FA"/>
<rect x="201" y="44" width="8" height="8" fill="#78B4FA"/>
<rect x="209" y="44" width="17" height="8" fill="#3C96F5"/>
<rect x="226" y="44" width="33" height="8" fill="#78B4FA"/>
<rect x="1" y="52" width="5" height="9" fill="#B4F8A8"/>
<rect x="6" y="52" width="8" height="9" fill="#78F578"/>
<rect x="14" y="52" width="43" height="9" fill="#B4F8A8"/>
<rect x="124" y="52" width="9" height="9" fill="#B4F8A8"/>
<rect x="133" y="52" width="8" height="9" fill="#B4F0FA"/>
<rect x="141" y="52" width="9" height="9" fill="#78B4FA"/>
<rect x="150" y="52" width="34" height="9" fill="#B4F0FA"/>
<rect x="184" y="52" width="17" height="9" fill="#78B4FA"/>
<rect x="201" y="52" width="17" height="9" fill="#3C96F5"/>
<rect x="218" y="52" width="41" height="9" fill="#78B4FA"/>
<rect x="1" y="61" width="39" height="8" fill="#B4F8A8"/>
<rect x="40" y="61" width="8" height="8" fill="#EED9B5"/>
<rect x="65" y="61" width="9" height="8" fill="#EED9B5"/>
<rect x="99" y="61" width="9" height="8" fill="#EED9B5"/>
<rect x="108" y="61" width="8" height="8" fill="#B4F8A8"/>
<rect x="116" y="61" width="8" height="8" fill="#78F578"/>
<rect x="124" y="61" width="17" height="8" fill="#B4F0FA"/>
<rect x="141" y="61" width="17" height="8" fill="#78F578"/>
<rect x="158" y="61" width="26" height="8" fill="#B4F0FA"/>
<rect x="184" y="61" width="8" height="8" fill="#78B4FA"/>
<rect x="192" y="61" width="9" height="8" fill="#B4F0FA"/>
<rect x="201" y="61" width="17" height="8" fill="#78B4FA"/>
<rect x="218" y="61" width="17" height="8" fill="#B4F0FA"/>
<rect x="235" y="61" width="8" height="8" fill="#78B4FA"/>
<rect x="243" y="61" width="8" height="8" fill="#B4F0FA"/>
<rect x="251" y="61" width="8" height="8" fill="#78B4FA"/>
<rect x="31" y="69" width="60" height="8" fill="#B4F8A8"/>
<rect x="91" y="69" width="33" height="8" fill="#78F578"/>
<rect x="124" y="69" width="9" height="8" fill="#EED9B5"/>
<rect x="133" y="69" width="17" height="8" fill="#B4F8A8"/>
<rect x="150" y="69" width="17" height="8" fill="#78F578"/>
<rect x="167" y="69" width="8" height="8" fill="#B4F0FA"/>
<rect x="175" y="69" width="9" height="8" fill="#78B4FA"/>
<rect x="184" y="69" width="67" height="8" fill="#B4F0FA"/>
<rect x="251" y="69" width="8" height="8" fill="#78B4FA"/>
<rect x="6" y="77" width="8" height="9" fill="#78F578"/>
<rect x="14" y="77" width="9" height="9" fill="#B4F0FA"/>
<rect x="31" y="77" width="9" height="9" fill="#B4F8A8"/>
<rect x="40" y="77" width="17" height="9" fill="#B4F0FA"/>
<rect x="57" y="77" width="8" height="9" fill="#78F578"/>
<rect x="65" y="77" width="17" height="9" fill="#B4F0FA"/>
<rect x="82" y="77" width="34" height="9" fill="#78F578"/>
<rect x="116" y="77" width="17" height="9" fill="#B4F8A8"/>
<rect x="133" y="77" width="8" height="9" fill="#78F578"/>
<rect x="141" y="77" width="9" height="9" fill="#B4F8A8"/>
<rect x="150" y="77" width="8" height="9" fill="#B4F0FA"/>
<rect x="158" y="77" width="9" height="9" fill="#78F578"/>
<rect x="167" y="77" width="76" height="9" fill="#B4F0FA"/>
<rect x="243" y="77" width="16" height="9" fill="#78B4FA"/>
<rect x="1" y="86" width="5" height="8" fill="#78F578"/>
<rect x="6" y="86" width="8" height="8" fill="#1E64E6"/>
<rect x="14" y="86" width="9" height="8" fill="#78F578"/>
<rect x="23" y="86" width="8" height="8" fill="#B4F0FA"/>
<rect x="31" y="86" width="9" height="8" fill="#78F578"/>
<rect x="40" y="86" width="8" height="8" fill="#B4F0FA"/>
<rect x="48" y="86" width="9" height="8" fill="#78B4FA"/>
<rect x="57" y="86" width="34" height="8" fill="#78F578"/>
<rect x="91" y="86" width="8" height="8" fill="#B4F0FA"/>
<rect x="99" y="86" width="25" height="8" fill="#78F578"/>
<rect x="124" y="86" width="43" height="8" fill="#B4F8A8"/>
<rect x="167" y="86" width="17" height="8" fill="#78F578"/>
<rect x="184" y="86" width="75" height="8" fill="#B4F0FA"/>
<rect x="1" y="94" width="5" height="9" fill="#B4F8A8"/>
<rect x="6" y="94" width="17" height="9" fill="#78F578"/>
<rect x="23" y="94" width="17" height="9" fill="#B4F0FA"/>
<rect x="40" y="94" width="8" height="9" fill="#B4F8A8"/>
<rect x="48" y="94" width="9" height="9" fill="#78F578"/>
<rect x="57" y="94" width="17" height="9" fill="#B4F8A8"/>
<rect x="91" y="94" width="8" height="9" fill="#EED9B5"/>
<rect x="99" y="94" width="9" height="9" fill="#B4F8A8"/>
<rect x="108" y="94" width="16" height="9" fill="#EED9B5"/>
<rect x="124" y="94" width="9" height="9" fill="#B4F8A8"/>
<rect x="133" y="94" width="8" height="9" fill="#EED9B5"/>
<rect x="141" y="94" width="26" height="9" fill="#B4F8A8"/>
<rect x="167" y="94" width="8" height="9" fill="#78F578"/>
<rect x="175" y="94" width="9" height="9" fill="#B4F0FA"/>
<rect x="184" y="94" width="8" height="9" fill="#78F578"/>
<rect x="192" y="94" width="26" height="9" fill="#B4F0FA"/>
<rect x="218" y="94" width="8" height="9" fill="#78F578"/>
<rect x="226" y="94" width="33" height="9" fill="#B4F0FA"/>
<rect x="23" y="103" width="17" height="8" fill="#B4F8A8"/>
<rect x="40" y="103" width="8" height="8" fill="#EED9B5"/>
<rect x="65" y="103" width="9" height="8" fill="#B4F0FA"/>
<rect x="74" y="103" width="8" height="8" fill="#EED9B5"/>
<rect x="82" y="103" width="9" height="8" fill="#B4F8A8"/>
<rect x="108" y="103" width="16" height="8" fill="#EED9B5"/>
<rect x="124" y="103" width="17" height="8" fill="#78F578"/>
<rect x="141" y="103" width="17" height="8" fill="#B4F0FA"/>
<rect x="158" y="103" width="17" height="8" fill="#B4F8A8"/>
<rect x="175" y="103" width="26" height="8" fill="#78F578"/>
<rect x="201" y="103" width="8" height="8" fill="#B4F0FA"/>
<rect x="209" y="103" width="9" height="8" fill="#78B4FA"/>
<rect x="218" y="103" width="25" height="8" fill="#B4F0FA"/>
<rect x="243" y="103" width="8" height="8" fill="#78B4FA"/>
<rect x="251" y="103" width="8" height="8" fill="#B4F0FA"/>
<rect x="14" y="111" width="9" height="9" fill="#EED9B5"/>
<rect x="116" y="111" width="17" height="9" fill="#B4F8A8"/>
<rect x="133" y="111" width="8" height="9" fill="#EED9B5"/>
<rect x="150" y="111" width="8" height="9" fill="#B4F8A8"/>
<rect x="158" y="111" width="9" height="9" fill="#78B4FA"/>
<rect x="167" y="111" width="8" height="9" fill="#3C96F5"/>
<rect x="175" y="111" width="9" height="9" fill="#B4F0FA"/>
<rect x="184" y="111" width="8" height="9" fill="#B4F8A8"/>
<rect x="192" y="111" width="34" height="9" fill="#78F578"/>
<rect x="226" y="111" width="17" height="9" fill="#B4F0FA"/>
<rect x="243" y="111" width="16" height="9" fill="#78B4FA"/>
<rect x="116" y="120" width="8" height="8" fill="#78F578"/>
<rect x="133" y="120" width="42" height="8" fill="#B4F8A8"/>
<rect x="175" y="120" width="9" height="8" fill="#78F578"/>
<rect x="184" y="120" width="8" height="8" fill="#B4F8A8"/>
<rect x="192" y="120" width="67" height="8" fill="#B4F0FA"/>
<rect x="65" y="128" width="17" height="9" fill="#EED9B5"/>
<rect x="91" y="128" width="8" height="9" fill="#B4F8A8"/>
<rect x="99" y="128" width="9" height="9" fill="#EED9B5"/>
<rect x="141" y="128" width="34" height="9" fill="#B4F8A8"/>
<rect x="175" y="128" width="9" height="9" fill="#B4F0FA"/>
<rect x="184" y="128" width="8" height="9" fill="#78B4FA"/>
<rect x="192" y="128" width="9" height="9" fill="#B4F0FA"/>
<rect x="201" y="128" width="8" height="9" fill="#78F578"/>
<rect x="209" y="128" width="9" height="9" fill="#B4F0FA"/>
<rect x="218" y="128" width="8" height="9" fill="#78F578"/>
<rect x="226" y="128" width="9" height="9" fill="#B4F8A8"/>
<rect x="235" y="128" width="8" height="9" fill="#78F578"/>
<rect x="243" y="128" width="16" height="9" fill="#B4F0FA"/>
<rect x="57" y="137" width="8" height="8" fill="#EED9B5"/>
<rect x="65" y="137" width="9" height="8" fill="#78F578"/>
<rect x="74" y="137" width="8" height="8" fill="#B4F8A8"/>
<rect x="116" y="137" width="8" height="8" fill="#78F578"/>
<rect x="124" y="137" width="9" height="8" fill="#EED9B5"/>
<rect x="150" y="137" width="8" height="8" fill="#B4F8A8"/>
<rect x="158" y="137" width="17" height="8" fill="#78F578"/>
<rect x="175" y="137" width="17" height="8" fill="#B4F8A8"/>
<rect x="192" y="137" width="9" height="8" fill="#EED9B5"/>
<rect x="209" y="137" width="9" height="8" fill="#78F578"/>
<rect x="218" y="137" width="8" height="8" fill="#B4F0FA"/>
<rect x="226" y="137" width="9" height="8" fill="#B4F8A8"/>
<rect x="235" y="137" width="8" height="8" fill="#78F578"/>
<rect x="243" y="137" width="8" height="8" fill="#B4F0FA"/>
<rect x="251" y="137" width="8" height="8" fill="#78F578"/>
<rect x="40" y="145" width="8" height="8" fill="#EED9B5"/>
<rect x="57" y="145" width="17" height="8" fill="#EED9B5"/>
<rect x="99" y="145" width="9" height="8" fill="#B4F8A8"/>
<rect x="124" y="145" width="9" height="8" fill="#EED9B5"/>
<rect x="141" y="145" width="9" height="8" fill="#B4F8A8"/>
<rect x="167" y="145" width="8" height="8" fill="#78F578"/>
<rect x="184" y="145" width="8" height="8" fill="#B4F8A8"/>
<rect x="192" y="145" width="34" height="8" fill="#EED9B5"/>
<rect x="226" y="145" width="17" height="8" fill="#B4F8A8"/>
<rect x="243" y="145" width="16" height="8" fill="#EED9B5"/>
<rect x="31" y="153" width="9" height="9" fill="#EED9B5"/>
<rect x="40" y="153" width="8" height="9" fill="#B4F8A8"/>
<rect x="57" y="153" width="8" height="9" fill="#EED9B5"/>
<rect x="74" y="153" width="17" height="9" fill="#EED9B5"/>
<rect x="99" y="153" width="9" height="9" fill="#B4F8A8"/>
<rect x="108" y="153" width="8" height="9" fill="#EED9B5"/>
<rect x="124" y="153" width="9" height="9" fill="#78B4FA"/>
<rect x="133" y="153" width="8" height="9" fill="#B4F0FA"/>
<rect x="150" y="153" width="8" height="9" fill="#B4F8A8"/>
<rect x="175" y="153" width="84" height="9" fill="#B4F8A8"/>
<rect x="124" y="162" width="43" height="8" fill="#B4F8A8"/>
<rect x="175" y="162" width="26" height="8" fill="#B4F8A8"/>
<rect x="201" y="162" width="8" height="8" fill="#EED9B5"/>
<rect x="209" y="162" width="9" height="8" fill="#B4F8A8"/>
<rect x="218" y="162" width="17" height="8" fill="#EED9B5"/>
<rect x="235" y="162" width="16" height="8" fill="#B4F8A8"/>
<rect x="251" y="162" width="8" height="8" fill="#78F578"/>
<rect x="150" y="170" width="8" height="9" fill="#EED9B5"/>
<rect x="158" y="170" width="9" height="9" fill="#B4F8A8"/>
<rect x="167" y="170" width="8" height="9" fill="#EED9B5"/>
<rect x="175" y="170" width="17" height="9" fill="#B4F8A8"/>
<rect x="218" y="170" width="8" height="9" fill="#EED9B5"/>
<rect x="226" y="170" width="9" height="9" fill="#B4F8A8"/>
<rect x="235" y="170" width="16" height="9" fill="#78F578"/>
<rect x="251" y="170" width="8" height="9" fill="#B4F0FA"/>
<rect x="175" y="179" width="9" height="8" fill="#B4F8A8"/>
<rect x="226" y="179" width="9" height="8" fill="#EED9B5"/>
<rect x="235" y="179" width="8" height="8" fill="#B4F8A8"/>
<rect x="243" y="179" width="16" height="8" fill="#EED9B5"/>
<rect x="150" y="187" width="8" height="9" fill="#EED9B5"/>
<rect x="209" y="187" width="9" height="9" fill="#EED9B5"/>
<rect x="226" y="187" width="33" height="9" fill="#EED9B5"/>
<rect x="124" y="196" width="9" height="8" fill="#EED9B5"/>
<rect x="150" y="196" width="17" height="8" fill="#EED9B5"/>
<rect x="235" y="196" width="8" height="8" fill="#EED9B5"/>
<rect x="99" y="204" width="17" height="8" fill="#EED9B5"/>
<rect x="124" y="204" width="68" height="8" fill="#EED9B5"/>
<rect x="201" y="204" width="8" height="8" fill="#EED9B5"/>
<rect x="209" y="204" width="9" height="8" fill="#B4F8A8"/>
<rect x="251" y="204" width="8" height="8" fill="#EED9B5"/>
<rect x="6" y="212" width="93" height="9" fill="#EED9B5"/>
<rect x="124" y="212" width="17" height="9" fill="#EED9B5"/>
<rect x="141" y="212" width="34" height="9" fill="#B4F8A8"/>
<rect x="175" y="212" width="17" height="9" fill="#EED9B5"/>
<rect x="192" y="212" width="17" height="9" fill="#B4F8A8"/>
<rect x="209" y="212" width="50" height="9" fill="#EED9B5"/>
<rect x="1" y="221" width="123" height="8" fill="#EED9B5"/>
<rect x="124" y="221" width="26" height="8" fill="#B4F8A8"/>
<rect x="150" y="221" width="8" height="8" fill="#EED9B5"/>
<rect x="158" y="221" width="51" height="8" fill="#B4F8A8"/>
<rect x="209" y="221" width="9" height="8" fill="#EED9B5"/>
<rect x="218" y="221" width="8" height="8" fill="#B4F8A8"/>
<rect x="226" y="221" width="33" height="8" fill="#EED9B5"/>
<rect x="1" y="229" width="73" height="9" fill="#EED9B5"/>
<rect x="74" y="229" width="8" height="9" fill="#B4F8A8"/>
<rect x="82" y="229" width="9" height="9" fill="#EED9B5"/>
<rect x="91" y="229" width="8" height="9" fill="#B4F8A8"/>
<rect x="99" y="229" width="9" height="9" fill="#EED9B5"/>
<rect x="108" y="229" width="101" height="9" fill="#B4F8A8"/>
<rect x="209" y="229" width="34" height="9" fill="#EED9B5"/>
<rect x="1" y="238" width="157" height="8" fill="#EED9B5"/>
<rect x="158" y="238" width="43" height="8" fill="#B4F8A8"/>
<rect x="201" y="238" width="42" height="8" fill="#EED9B5"/>
<rect x="1" y="246" width="242" height="9" fill="#EED9B5"/>
<rect x="1" y="255" width="107" height="8" fill="#EED9B5"/>
<rect x="116" y="255" width="135" height="8" fill="#EED9B5"/>
<rect x="1" y="263" width="81" height="5" fill="#EED9B5"/>
<rect x="158" y="263" width="9" height="5" fill="#EED9B5"/>
<rect x="184" y="263" width="75" height="5" fill="#EED9B5"/>
</g>
<g fill="none" stroke="#5a5a5a" stroke-width="1" stroke-linejoin="round" shape-rendering="crispEdges"><path d="M58.8,107.1 L60.1,104.1 L64.8,102.4 L70.2,101.5 L76.2,100.9 L81.5,100.4 L86.9,101.5 L91.6,103.3 L95.6,105.1 L97.6,108.2 L102.3,107.1 L107.0,108.4 L111.7,109.1 L115.7,108.4 L117.0,104.4 L119.7,102.4 L125.0,101.1 L131.7,102.8 L137.1,104.1 L142.4,102.4 L145.4,101.5 L149.4,103.7 L154.7,105.7 L160.1,106.4 L165.4,110.4 L170.8,111.1 L174.8,109.5 L178.8,111.1 L179.5,115.8 L182.8,121.1 L186.9,122.5 L191.5,121.5 L197.6,121.1 L201.6,121.1 L204.3,122.5 L200.9,123.8 L196.2,125.8 L190.9,125.2 L187.9,125.8 L187.5,128.5 L190.9,129.2 L194.9,129.8 L198.9,131.2 L204.3,131.8 L211.0,132.5 L216.3,133.2 L220.3,136.5 L225.7,140.5 L232.4,145.9 L229.7,149.9 L227.7,153.9 L223.0,153.9 L221.7,158.0 L219.0,161.3 L217.6,158.0 L215.0,153.9 L209.6,152.6 L201.6,151.3 L193.5,152.3 L186.9,151.9 L180.2,151.0 L175.5,151.9 L172.8,153.9 L170.8,158.0 L160.2,158.5 L156.9,157.6 L156.0,153.5 L153.6,151.9 L148.6,153.5 L143.7,154.3 L140.4,155.2 L138.7,158.5 L138.7,164.2 L135.4,168.4 L132.1,173.3 L128.8,178.3 L127.2,179.6 L125.5,177.4 L122.2,175.0 L118.9,172.5 L118.9,168.4 L117.3,165.1 L115.6,161.8 L112.3,160.1 L109.0,159.3 L102.4,159.8 L95.8,160.1 L87.6,160.1 L81.0,160.9 L76.0,160.1 L67.8,158.5 L59.5,157.6 L52.9,158.5 L49.6,161.8 L47.1,164.7 L44.7,165.1 L43.0,161.8 L38.9,159.3 L34.8,156.8 L31.5,155.2 L25.7,153.5 L24.9,150.2 L26.5,145.3 L31.5,143.9 L36.4,144.4 L38.0,144.3 L47.4,145.9 L49.6,147.2 L55.4,147.9 L60.8,148.6 L67.5,149.9 L75.5,149.2 L84.9,149.9 L92.2,148.6 L95.6,146.6 L96.9,143.9 L94.3,141.2 L88.9,138.5 L83.5,133.9 L80.9,129.8 L84.2,128.5 L82.2,126.5 L82.9,122.5 L84.2,117.8 L80.2,115.1 L75.5,112.7 L70.2,110.8 L64.8,111.1 L60.1,110.0Z"/><path d="M115.7,108.4 L117.7,111.8 L118.4,115.8 L116.3,121.1 L120.4,125.2 L118.4,128.5 L111.7,133.9 L115.7,135.9 L117.7,140.5 L115.7,144.6 L107.6,145.2 L111.7,149.9 L116.3,155.3 L117.0,159.3 L115.6,161.8"/><path d="M75.5,96.6 L78.2,95.6 L82.2,95.8 L86.9,97.4 L83.5,98.2 L78.2,97.7Z"/><path d="M65.1,134.1 L68.8,133.5 L74.2,135.9 L79.5,137.9 L81.1,141.2 L76.9,141.9 L70.2,139.5 L65.5,137.2Z"/><path d="M0.8,75.2 L4.9,75.2 L9.9,75.2 L12.4,77.3 L15.3,77.7 L16.5,79.4 L19.0,82.3 L21.4,84.7 L23.5,86.8 L25.6,87.2 L27.2,88.4 L29.7,88.9 L33.0,88.0 L34.6,88.9 L35.9,91.3 L34.6,92.6 L33.0,94.2 L32.6,96.3 L28.9,95.9 L24.7,96.5 L20.6,97.1 L16.5,96.7 L12.4,97.5 L9.9,98.8 L7.4,100.8 L4.9,101.6 L2.5,102.5 L0.8,102.5"/><path d="M53.5,11.2 L55.6,10.4 L58.4,10.9"/><path d="M69.1,16.6 L70.5,15.2 L73.3,15.9 L74.8,17.3 L78.3,17.7 L81.1,18.7 L83.3,19.4 L82.6,21.1 L80.4,20.9 L77.6,19.2 L74.8,19.4 L71.9,19.2 L69.8,19.4 L68.8,18.0Z"/><path d="M91.8,42.8 L93.2,41.4"/><path d="M120.1,53.5 L120.6,55.6"/><path d="M71.9,47.5 L74.0,46.4 L76.9,47.1 L77.6,48.5 L75.5,49.9 L72.6,49.9 L71.9,48.5Z"/><path d="M50.6,63.4 L52.1,60.6 L54.9,59.2 L57.7,57.7 L60.6,57.5 L63.4,59.2 L66.2,58.4 L69.1,56.3 L71.2,54.2 L72.6,53.5 L74.0,54.2 L73.3,57.0 L72.6,60.6 L70.5,63.4 L67.7,65.5 L64.8,66.2 L62.0,67.0 L57.7,67.4 L53.5,67.4 L51.4,66.2Z"/><path d="M51.0,162.6 L53.5,162.2 L54.0,163.6 L51.5,163.9Z"/><path d="M244.4,163.5 L246.0,162.6 L248.4,162.9 L247.5,164.4 L245.2,164.4Z"/><path d="M123.0,179.5 L125.0,179.5 L125.0,181.3 L123.0,181.3Z"/><path d="M218.0,159.6 L220.5,158.9 L223.0,160.3 L220.5,161.6Z"/><path d="M10.2,1.2 L12.3,2.4"/><path d="M28.7,2.7 L30.8,4.1 L33.6,6.4 L37.9,7.4 L43.6,7.0 L46.7,6.7 L45.7,9.5 L45.0,13.1 L43.6,15.2 L41.4,16.9 L38.6,18.7 L35.8,20.9 L33.3,23.0 L31.5,25.1 L29.8,27.2" stroke-width="1.8"/><path d="M30.8,6.7 L29.4,8.8 L28.0,10.9 L27.2,12.6" stroke-width="1.8"/><path d="M96.0,39.3 L97.5,36.5 L98.9,38.6 L101.7,38.6 L106.0,35.0 L107.4,32.9 L110.2,32.9 L113.1,35.8 L117.3,37.9 L121.6,39.3 L125.1,41.4 L126.5,42.8 L125.8,45.0 L125.1,47.1 L123.7,49.2" stroke-width="1.8"/><path d="M134.2,54.8 L135.6,52.0 L137.8,47.6" stroke-width="1.8"/><rect x="5" y="152.5" width="1.5" height="1.5" fill="#5a5a5a" stroke="none"/></g>
<rect x="0.5" y="0.5" width="259" height="268" fill="none" stroke="#000" stroke-width="1" shape-rendering="crispEdges"/>
</svg>
<div class="rt rb" style="top:33px">Precip.</div>
<div class="rt rb" style="top:54px">Forecast</div>
<div class="rt rn" style="top:99px">as of:</div>
<div class="rt rn" style="top:117px">Oct 17, 2015</div>
<div class="rt rn" style="top:168px">Daily</div>
<div class="rt rn" style="top:186px">Totals</div>
<div class="rt rn" style="top:253px">Data:</div>
<div class="rt rn" style="top:271px">NOAA-</div>
<div class="rt rn" style="top:290px">GFS</div>
<div class="rt" style="top:358px;font-weight:bold;font-size:13px;line-height:13px;letter-spacing:0.1px">PPT (mm)</div>
<div class="lg" style="top:377px;background:#FFFFFF"></div><div class="ll" style="top:378px">0 - 0.1</div>
<div class="lg" style="top:394px;background:#EED9B5"></div><div class="ll" style="top:395px">0.1 - 1</div>
<div class="lg" style="top:412px;background:#B4F8A8"></div><div class="ll" style="top:413px">1 - 5</div>
<div class="lg" style="top:429px;background:#78F578"></div><div class="ll" style="top:430px">5 - 10</div>
<div class="lg" style="top:446px;background:#B4F0FA"></div><div class="ll" style="top:447px">10 - 20</div>
<div class="lg" style="top:463px;background:#78B4FA"></div><div class="ll" style="top:464px">20 - 30</div>
<div class="lg" style="top:481px;background:#3C96F5"></div><div class="ll" style="top:482px">30 - 40</div>
<div class="lg" style="top:498px;background:#1E64E6"></div><div class="ll" style="top:499px">40 - 50</div>
<div class="lg" style="top:515px;background:#FFE678"></div><div class="ll" style="top:516px">50 - 65</div>
<div class="lg" style="top:532px;background:#FFA000"></div><div class="ll" style="top:533px">65 - 80</div>
<div class="lg" style="top:550px;background:#FF3200"></div><div class="ll" style="top:551px">80 - 100</div>
<div class="lg" style="top:567px;background:#A01E1E"></div><div class="ll" style="top:568px">&gt; 100</div>
<div class="lg" style="top:584px;background:#A0A0A0"></div><div class="ll" style="top:585px">No Data</div>
<div class="ft">Map produced by USGS/EROS</div>
<svg style="position:absolute;left:570px;top:600px" width="260" height="35" viewBox="570 600 260 35">
<defs><clipPath id="nc"><circle cx="649.5" cy="616.3" r="10.2"/></clipPath><clipPath id="fc"><circle cx="757.6" cy="616.2" r="8.9"/></clipPath></defs>
<g fill="#137a3c">
<path d="M579.2,607.7H593.1L586.2,612.6ZM579.2,621.8H593.1V616.8L579.2,618.2Z"/>
<path d="M579.2,607.7V621.8H593.1V607.7Z" opacity="0.9"/>
</g>
<g stroke="#fff" stroke-width="0.75" fill="none">
<path d="M579.2,611.6C584,613.4 588,616.2 593.1,617.0"/>
<path d="M579.2,613.2C584,615.0 588,617.6 593.1,618.6"/>
<path d="M579.2,616.6C584,614.8 588,612.6 593.1,611.6"/>
<path d="M579.2,618.0C584,616.4 588,614.0 593.1,613.2"/>
</g>
<text x="595.8" y="621.8" font-family="Liberation Sans" font-weight="bold" font-size="19.8" fill="#137a3c" stroke="#137a3c" stroke-width="0.4" textLength="38.4" lengthAdjust="spacingAndGlyphs">USGS</text>
<text x="579.4" y="627.3" font-family="Liberation Sans" font-style="italic" font-weight="bold" font-size="4.3" fill="#3c9a5e" textLength="54.8" lengthAdjust="spacingAndGlyphs">science for a changing world</text>
<circle cx="649.5" cy="616.3" r="11.6" fill="#fff" stroke="#9a9ab0" stroke-width="0.7"/>
<g clip-path="url(#nc)">
<rect x="638" y="605" width="23" height="23" fill="#fff"/>
<path d="M638,605H661V609.3L658.4,609.6C655.5,612.6 652.4,615.8 649.4,618.6C646.6,615.4 643.8,612 641.4,608.6L638,609Z" fill="#12177a"/>
<path d="M638.5,612.2C642,615.6 645.4,619.8 648.8,620.4C652.8,620.6 657,615.2 661,610.6V628H638Z" fill="#1c9ff2"/>
</g>
<text x="645.3" y="612.2" font-family="Liberation Sans" font-weight="bold" font-size="3.2" fill="#dfe3f5" textLength="8" lengthAdjust="spacingAndGlyphs">noaa</text>
<circle cx="679.3" cy="616.5" r="10.6" fill="#fff" stroke="#5a88c6" stroke-width="0.9"/>
<circle cx="679.3" cy="616.5" r="9.0" fill="none" stroke="#6a94cc" stroke-width="1.3" stroke-dasharray="0.7 0.45"/><circle cx="679.3" cy="616.5" r="7.9" fill="none" stroke="#8aa8d4" stroke-width="0.4"/>
<rect x="674" y="610.1" width="10.5" height="2.8" rx="1" fill="#2c56a0"/>
<path d="M675,614.4H683.6M674.4,615.8H684.2M675.4,617.2H683.2" stroke="#444" stroke-width="0.45"/>
<rect x="674" y="619.4" width="10.5" height="1.3" fill="#2c56a0"/>
<path d="M674,620.7H684.5V622.3L679.3,623.8L674,622.3Z" fill="#e02a4d"/>
<text x="692.8" y="619.5" font-family="Liberation Sans" font-weight="bold" font-size="14.2" textLength="51" lengthAdjust="spacingAndGlyphs"><tspan fill="#1c3f8e">US</tspan><tspan fill="#d0173f">AID</tspan></text>
<text x="692.8" y="624.8" font-family="Liberation Sans" font-weight="bold" font-size="3.5" fill="#4a6aa8" textLength="50.7" lengthAdjust="spacingAndGlyphs">FROM THE AMERICAN PEOPLE</text>
<circle cx="757.6" cy="616.2" r="10.5" fill="#fff" stroke="#e27a2a" stroke-width="1.7"/>
<circle cx="757.6" cy="616.2" r="8.9" fill="#eef3ee"/>
<g clip-path="url(#fc)" fill="#1f8a3c">
<path d="M750.5,610.5C752.5,609.3 755.5,609.5 757,611C756,612.4 754.6,613 754.2,614.6C753.6,616.4 754.8,618.2 753.6,620.4C752.6,622 751.4,620.6 751,618.8C750.6,617 749.6,615.6 749.8,613.6Z"/>
<path d="M758.2,612.8C760.6,611.2 763.6,611.4 766.4,612.6L766.6,617.6C765.2,619.4 763.2,620.4 762,622.4C760.8,624 759.4,622.8 759.2,620.8C758.8,618.8 757.2,617.6 757.4,615.6Z"/>
</g>
<text x="770.4" y="617.9" font-family="Liberation Serif" font-weight="bold" font-size="13.2" fill="#c2652b" stroke="#c2652b" stroke-width="0.35" textLength="51.1" lengthAdjust="spacingAndGlyphs">FEWS NET</text>
<rect x="767.9" y="619.1" width="53.6" height="1.2" fill="#e27a2a"/>
<text x="770.4" y="623.6" font-family="Liberation Sans" font-size="2.6" fill="#6a5a50" textLength="51" lengthAdjust="spacingAndGlyphs">FAMINE EARLY WARNING SYSTEMS NETWORK</text>
</svg>
</body></html>
